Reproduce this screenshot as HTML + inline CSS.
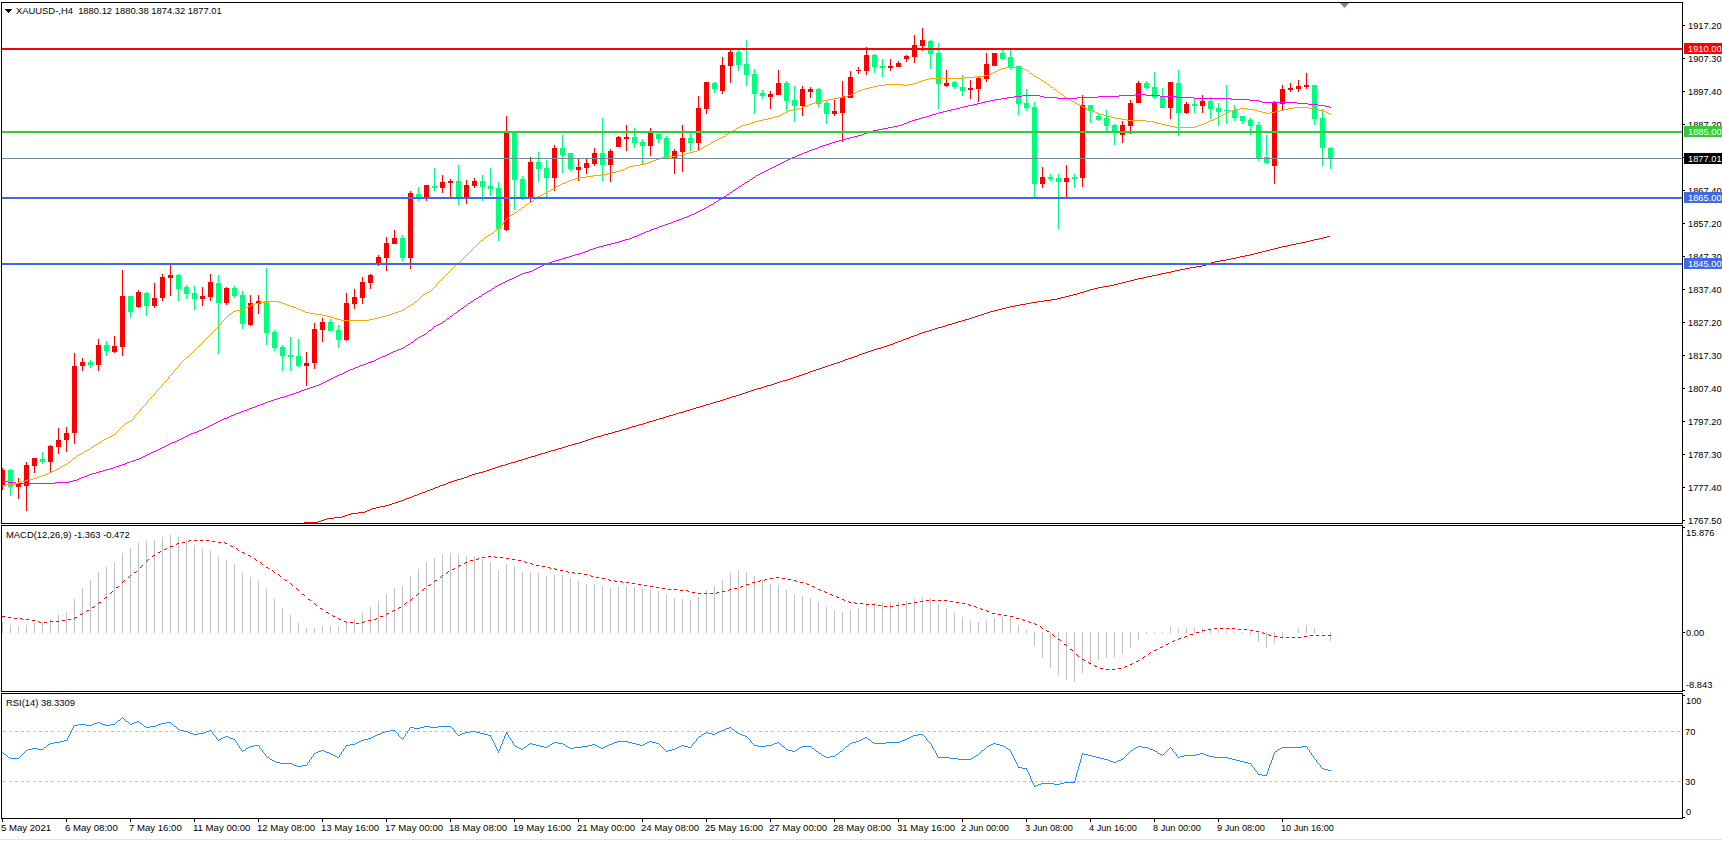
<!DOCTYPE html>
<html><head><meta charset="utf-8"><title>XAUUSD H4</title>
<style>html,body{margin:0;padding:0;background:#fff;}svg{display:block;} text{font-family:"Liberation Sans", sans-serif;}</style>
</head><body>
<svg width="1722" height="841" viewBox="0 0 1722 841" shape-rendering="crispEdges" font-family="'Liberation Sans', sans-serif">
<rect x="0" y="0" width="1722" height="841" fill="#ffffff"/>
<defs><clipPath id="cm"><rect x="2" y="3" width="1680" height="520"/></clipPath><clipPath id="cd"><rect x="2" y="526" width="1680" height="165"/></clipPath><clipPath id="cr"><rect x="2" y="694" width="1680" height="124"/></clipPath></defs>
<g clip-path="url(#cm)">
<rect x="2" y="468" width="1" height="22" fill="#ff0000"/>
<rect x="0" y="470" width="5" height="16" fill="#ff0000"/>
<rect x="10" y="469" width="1" height="27" fill="#00ff7f"/>
<rect x="8" y="470" width="5" height="17" fill="#00ff7f"/>
<rect x="18" y="478" width="1" height="21" fill="#ff0000"/>
<rect x="16" y="484" width="5" height="3" fill="#ff0000"/>
<rect x="26" y="462" width="1" height="49" fill="#ff0000"/>
<rect x="24" y="465" width="5" height="21" fill="#ff0000"/>
<rect x="34" y="458" width="1" height="15" fill="#ff0000"/>
<rect x="32" y="458" width="5" height="8" fill="#ff0000"/>
<rect x="42" y="452" width="1" height="12" fill="#00ff7f"/>
<rect x="40" y="459" width="5" height="3" fill="#00ff7f"/>
<rect x="50" y="445" width="1" height="27" fill="#ff0000"/>
<rect x="48" y="446" width="5" height="16" fill="#ff0000"/>
<rect x="58" y="428" width="1" height="26" fill="#ff0000"/>
<rect x="56" y="440" width="5" height="7" fill="#ff0000"/>
<rect x="66" y="427" width="1" height="25" fill="#ff0000"/>
<rect x="64" y="433" width="5" height="7" fill="#ff0000"/>
<rect x="74" y="353" width="1" height="91" fill="#ff0000"/>
<rect x="72" y="366" width="5" height="67" fill="#ff0000"/>
<rect x="82" y="358" width="1" height="13" fill="#ff0000"/>
<rect x="80" y="362" width="5" height="4" fill="#ff0000"/>
<rect x="90" y="360" width="1" height="8" fill="#00ff7f"/>
<rect x="88" y="362" width="5" height="3" fill="#00ff7f"/>
<rect x="98" y="339" width="1" height="32" fill="#ff0000"/>
<rect x="96" y="345" width="5" height="20" fill="#ff0000"/>
<rect x="106" y="341" width="1" height="15" fill="#00ff7f"/>
<rect x="104" y="345" width="5" height="6" fill="#00ff7f"/>
<rect x="114" y="336" width="1" height="17" fill="#ff0000"/>
<rect x="112" y="346" width="5" height="6" fill="#ff0000"/>
<rect x="122" y="270" width="1" height="86" fill="#ff0000"/>
<rect x="120" y="296" width="5" height="51" fill="#ff0000"/>
<rect x="130" y="296" width="1" height="22" fill="#00ff7f"/>
<rect x="128" y="296" width="5" height="16" fill="#00ff7f"/>
<rect x="138" y="290" width="1" height="18" fill="#ff0000"/>
<rect x="136" y="292" width="5" height="15" fill="#ff0000"/>
<rect x="146" y="292" width="1" height="24" fill="#00ff7f"/>
<rect x="144" y="293" width="5" height="13" fill="#00ff7f"/>
<rect x="154" y="283" width="1" height="25" fill="#ff0000"/>
<rect x="152" y="298" width="5" height="8" fill="#ff0000"/>
<rect x="162" y="274" width="1" height="27" fill="#ff0000"/>
<rect x="160" y="277" width="5" height="21" fill="#ff0000"/>
<rect x="170" y="265" width="1" height="31" fill="#ff0000"/>
<rect x="168" y="275" width="5" height="3" fill="#ff0000"/>
<rect x="178" y="274" width="1" height="27" fill="#00ff7f"/>
<rect x="176" y="275" width="5" height="14" fill="#00ff7f"/>
<rect x="186" y="285" width="1" height="14" fill="#00ff7f"/>
<rect x="184" y="287" width="5" height="7" fill="#00ff7f"/>
<rect x="194" y="286" width="1" height="24" fill="#00ff7f"/>
<rect x="192" y="293" width="5" height="6" fill="#00ff7f"/>
<rect x="202" y="287" width="1" height="19" fill="#ff0000"/>
<rect x="200" y="296" width="5" height="3" fill="#ff0000"/>
<rect x="210" y="274" width="1" height="27" fill="#ff0000"/>
<rect x="208" y="282" width="5" height="15" fill="#ff0000"/>
<rect x="218" y="275" width="1" height="79" fill="#00ff7f"/>
<rect x="216" y="283" width="5" height="20" fill="#00ff7f"/>
<rect x="226" y="287" width="1" height="18" fill="#ff0000"/>
<rect x="224" y="288" width="5" height="15" fill="#ff0000"/>
<rect x="234" y="286" width="1" height="12" fill="#00ff7f"/>
<rect x="232" y="288" width="5" height="8" fill="#00ff7f"/>
<rect x="242" y="291" width="1" height="38" fill="#00ff7f"/>
<rect x="240" y="295" width="5" height="29" fill="#00ff7f"/>
<rect x="250" y="295" width="1" height="31" fill="#ff0000"/>
<rect x="248" y="303" width="5" height="22" fill="#ff0000"/>
<rect x="258" y="295" width="1" height="19" fill="#ff0000"/>
<rect x="256" y="301" width="5" height="3" fill="#ff0000"/>
<rect x="266" y="268" width="1" height="77" fill="#00ff7f"/>
<rect x="264" y="301" width="5" height="32" fill="#00ff7f"/>
<rect x="274" y="330" width="1" height="21" fill="#00ff7f"/>
<rect x="272" y="332" width="5" height="16" fill="#00ff7f"/>
<rect x="282" y="345" width="1" height="26" fill="#00ff7f"/>
<rect x="280" y="347" width="5" height="9" fill="#00ff7f"/>
<rect x="290" y="337" width="1" height="34" fill="#00ff7f"/>
<rect x="288" y="355" width="5" height="2" fill="#00ff7f"/>
<rect x="298" y="339" width="1" height="28" fill="#00ff7f"/>
<rect x="296" y="356" width="5" height="10" fill="#00ff7f"/>
<rect x="306" y="352" width="1" height="34" fill="#ff0000"/>
<rect x="304" y="363" width="5" height="3" fill="#ff0000"/>
<rect x="314" y="323" width="1" height="46" fill="#ff0000"/>
<rect x="312" y="329" width="5" height="34" fill="#ff0000"/>
<rect x="322" y="318" width="1" height="24" fill="#ff0000"/>
<rect x="320" y="322" width="5" height="8" fill="#ff0000"/>
<rect x="330" y="319" width="1" height="12" fill="#00ff7f"/>
<rect x="328" y="322" width="5" height="9" fill="#00ff7f"/>
<rect x="338" y="325" width="1" height="23" fill="#00ff7f"/>
<rect x="336" y="330" width="5" height="10" fill="#00ff7f"/>
<rect x="346" y="293" width="1" height="48" fill="#ff0000"/>
<rect x="344" y="303" width="5" height="37" fill="#ff0000"/>
<rect x="354" y="289" width="1" height="20" fill="#ff0000"/>
<rect x="352" y="297" width="5" height="7" fill="#ff0000"/>
<rect x="362" y="277" width="1" height="27" fill="#ff0000"/>
<rect x="360" y="282" width="5" height="16" fill="#ff0000"/>
<rect x="370" y="274" width="1" height="15" fill="#ff0000"/>
<rect x="368" y="275" width="5" height="8" fill="#ff0000"/>
<rect x="378" y="255" width="1" height="11" fill="#ff0000"/>
<rect x="376" y="257" width="5" height="7" fill="#ff0000"/>
<rect x="386" y="237" width="1" height="34" fill="#ff0000"/>
<rect x="384" y="243" width="5" height="15" fill="#ff0000"/>
<rect x="394" y="230" width="1" height="14" fill="#ff0000"/>
<rect x="392" y="238" width="5" height="6" fill="#ff0000"/>
<rect x="402" y="235" width="1" height="26" fill="#00ff7f"/>
<rect x="400" y="238" width="5" height="20" fill="#00ff7f"/>
<rect x="410" y="191" width="1" height="78" fill="#ff0000"/>
<rect x="408" y="193" width="5" height="65" fill="#ff0000"/>
<rect x="418" y="187" width="1" height="14" fill="#00ff7f"/>
<rect x="416" y="194" width="5" height="4" fill="#00ff7f"/>
<rect x="426" y="185" width="1" height="16" fill="#ff0000"/>
<rect x="424" y="185" width="5" height="13" fill="#ff0000"/>
<rect x="434" y="168" width="1" height="23" fill="#00ff7f"/>
<rect x="432" y="186" width="5" height="2" fill="#00ff7f"/>
<rect x="442" y="175" width="1" height="18" fill="#ff0000"/>
<rect x="440" y="182" width="5" height="6" fill="#ff0000"/>
<rect x="450" y="179" width="1" height="19" fill="#ff0000"/>
<rect x="448" y="181" width="5" height="2" fill="#ff0000"/>
<rect x="458" y="165" width="1" height="40" fill="#00ff7f"/>
<rect x="456" y="181" width="5" height="17" fill="#00ff7f"/>
<rect x="466" y="180" width="1" height="24" fill="#ff0000"/>
<rect x="464" y="185" width="5" height="13" fill="#ff0000"/>
<rect x="474" y="178" width="1" height="10" fill="#ff0000"/>
<rect x="472" y="181" width="5" height="5" fill="#ff0000"/>
<rect x="482" y="175" width="1" height="26" fill="#00ff7f"/>
<rect x="480" y="181" width="5" height="6" fill="#00ff7f"/>
<rect x="490" y="168" width="1" height="28" fill="#00ff7f"/>
<rect x="488" y="186" width="5" height="3" fill="#00ff7f"/>
<rect x="498" y="182" width="1" height="59" fill="#00ff7f"/>
<rect x="496" y="188" width="5" height="41" fill="#00ff7f"/>
<rect x="506" y="116" width="1" height="115" fill="#ff0000"/>
<rect x="504" y="133" width="5" height="97" fill="#ff0000"/>
<rect x="514" y="133" width="1" height="77" fill="#00ff7f"/>
<rect x="512" y="133" width="5" height="47" fill="#00ff7f"/>
<rect x="522" y="176" width="1" height="24" fill="#00ff7f"/>
<rect x="520" y="179" width="5" height="18" fill="#00ff7f"/>
<rect x="530" y="157" width="1" height="46" fill="#ff0000"/>
<rect x="528" y="162" width="5" height="35" fill="#ff0000"/>
<rect x="538" y="152" width="1" height="30" fill="#00ff7f"/>
<rect x="536" y="162" width="5" height="7" fill="#00ff7f"/>
<rect x="546" y="160" width="1" height="38" fill="#00ff7f"/>
<rect x="544" y="168" width="5" height="10" fill="#00ff7f"/>
<rect x="554" y="145" width="1" height="46" fill="#ff0000"/>
<rect x="552" y="148" width="5" height="30" fill="#ff0000"/>
<rect x="562" y="135" width="1" height="38" fill="#00ff7f"/>
<rect x="560" y="148" width="5" height="7" fill="#00ff7f"/>
<rect x="570" y="153" width="1" height="18" fill="#00ff7f"/>
<rect x="568" y="153" width="5" height="16" fill="#00ff7f"/>
<rect x="578" y="159" width="1" height="22" fill="#ff0000"/>
<rect x="576" y="167" width="5" height="3" fill="#ff0000"/>
<rect x="586" y="158" width="1" height="16" fill="#ff0000"/>
<rect x="584" y="163" width="5" height="5" fill="#ff0000"/>
<rect x="594" y="148" width="1" height="18" fill="#ff0000"/>
<rect x="592" y="153" width="5" height="11" fill="#ff0000"/>
<rect x="602" y="118" width="1" height="63" fill="#00ff7f"/>
<rect x="600" y="153" width="5" height="12" fill="#00ff7f"/>
<rect x="610" y="149" width="1" height="33" fill="#ff0000"/>
<rect x="608" y="151" width="5" height="14" fill="#ff0000"/>
<rect x="618" y="136" width="1" height="11" fill="#ff0000"/>
<rect x="616" y="137" width="5" height="10" fill="#ff0000"/>
<rect x="626" y="125" width="1" height="26" fill="#ff0000"/>
<rect x="624" y="137" width="5" height="2" fill="#ff0000"/>
<rect x="634" y="128" width="1" height="20" fill="#00ff7f"/>
<rect x="632" y="137" width="5" height="6" fill="#00ff7f"/>
<rect x="642" y="139" width="1" height="26" fill="#00ff7f"/>
<rect x="640" y="142" width="5" height="4" fill="#00ff7f"/>
<rect x="650" y="128" width="1" height="28" fill="#ff0000"/>
<rect x="648" y="133" width="5" height="13" fill="#ff0000"/>
<rect x="658" y="133" width="1" height="10" fill="#00ff7f"/>
<rect x="656" y="134" width="5" height="5" fill="#00ff7f"/>
<rect x="666" y="136" width="1" height="23" fill="#00ff7f"/>
<rect x="664" y="138" width="5" height="21" fill="#00ff7f"/>
<rect x="674" y="149" width="1" height="25" fill="#ff0000"/>
<rect x="672" y="151" width="5" height="7" fill="#ff0000"/>
<rect x="682" y="125" width="1" height="47" fill="#ff0000"/>
<rect x="680" y="138" width="5" height="14" fill="#ff0000"/>
<rect x="690" y="132" width="1" height="19" fill="#00ff7f"/>
<rect x="688" y="138" width="5" height="5" fill="#00ff7f"/>
<rect x="698" y="96" width="1" height="55" fill="#ff0000"/>
<rect x="696" y="108" width="5" height="35" fill="#ff0000"/>
<rect x="706" y="82" width="1" height="32" fill="#ff0000"/>
<rect x="704" y="82" width="5" height="27" fill="#ff0000"/>
<rect x="714" y="82" width="1" height="11" fill="#00ff7f"/>
<rect x="712" y="83" width="5" height="6" fill="#00ff7f"/>
<rect x="722" y="57" width="1" height="37" fill="#ff0000"/>
<rect x="720" y="65" width="5" height="26" fill="#ff0000"/>
<rect x="730" y="50" width="1" height="33" fill="#ff0000"/>
<rect x="728" y="52" width="5" height="14" fill="#ff0000"/>
<rect x="738" y="50" width="1" height="21" fill="#00ff7f"/>
<rect x="736" y="52" width="5" height="13" fill="#00ff7f"/>
<rect x="746" y="40" width="1" height="46" fill="#00ff7f"/>
<rect x="744" y="64" width="5" height="11" fill="#00ff7f"/>
<rect x="754" y="69" width="1" height="45" fill="#00ff7f"/>
<rect x="752" y="74" width="5" height="20" fill="#00ff7f"/>
<rect x="762" y="90" width="1" height="9" fill="#00ff7f"/>
<rect x="760" y="93" width="5" height="3" fill="#00ff7f"/>
<rect x="770" y="91" width="1" height="18" fill="#ff0000"/>
<rect x="768" y="94" width="5" height="3" fill="#ff0000"/>
<rect x="778" y="70" width="1" height="25" fill="#ff0000"/>
<rect x="776" y="83" width="5" height="12" fill="#ff0000"/>
<rect x="786" y="81" width="1" height="30" fill="#00ff7f"/>
<rect x="784" y="83" width="5" height="18" fill="#00ff7f"/>
<rect x="794" y="86" width="1" height="36" fill="#00ff7f"/>
<rect x="792" y="100" width="5" height="6" fill="#00ff7f"/>
<rect x="802" y="86" width="1" height="30" fill="#ff0000"/>
<rect x="800" y="89" width="5" height="17" fill="#ff0000"/>
<rect x="810" y="87" width="1" height="11" fill="#ff0000"/>
<rect x="808" y="89" width="5" height="3" fill="#ff0000"/>
<rect x="818" y="88" width="1" height="19" fill="#00ff7f"/>
<rect x="816" y="89" width="5" height="15" fill="#00ff7f"/>
<rect x="826" y="101" width="1" height="23" fill="#00ff7f"/>
<rect x="824" y="103" width="5" height="11" fill="#00ff7f"/>
<rect x="834" y="100" width="1" height="16" fill="#ff0000"/>
<rect x="832" y="111" width="5" height="3" fill="#ff0000"/>
<rect x="842" y="81" width="1" height="61" fill="#ff0000"/>
<rect x="840" y="97" width="5" height="16" fill="#ff0000"/>
<rect x="850" y="71" width="1" height="27" fill="#ff0000"/>
<rect x="848" y="77" width="5" height="21" fill="#ff0000"/>
<rect x="858" y="67" width="1" height="7" fill="#ff0000"/>
<rect x="856" y="70" width="5" height="1" fill="#ff0000"/>
<rect x="866" y="47" width="1" height="28" fill="#ff0000"/>
<rect x="864" y="55" width="5" height="16" fill="#ff0000"/>
<rect x="874" y="54" width="1" height="19" fill="#00ff7f"/>
<rect x="872" y="55" width="5" height="12" fill="#00ff7f"/>
<rect x="882" y="59" width="1" height="18" fill="#00ff7f"/>
<rect x="880" y="66" width="5" height="2" fill="#00ff7f"/>
<rect x="890" y="59" width="1" height="12" fill="#ff0000"/>
<rect x="888" y="66" width="5" height="2" fill="#ff0000"/>
<rect x="898" y="61" width="1" height="6" fill="#ff0000"/>
<rect x="896" y="63" width="5" height="4" fill="#ff0000"/>
<rect x="906" y="55" width="1" height="7" fill="#ff0000"/>
<rect x="904" y="56" width="5" height="3" fill="#ff0000"/>
<rect x="914" y="35" width="1" height="28" fill="#ff0000"/>
<rect x="912" y="45" width="5" height="12" fill="#ff0000"/>
<rect x="922" y="28" width="1" height="23" fill="#ff0000"/>
<rect x="920" y="40" width="5" height="6" fill="#ff0000"/>
<rect x="930" y="40" width="1" height="29" fill="#00ff7f"/>
<rect x="928" y="41" width="5" height="13" fill="#00ff7f"/>
<rect x="938" y="43" width="1" height="66" fill="#00ff7f"/>
<rect x="936" y="53" width="5" height="31" fill="#00ff7f"/>
<rect x="946" y="70" width="1" height="17" fill="#ff0000"/>
<rect x="944" y="83" width="5" height="3" fill="#ff0000"/>
<rect x="954" y="81" width="1" height="8" fill="#00ff7f"/>
<rect x="952" y="82" width="5" height="5" fill="#00ff7f"/>
<rect x="962" y="75" width="1" height="21" fill="#00ff7f"/>
<rect x="960" y="87" width="5" height="4" fill="#00ff7f"/>
<rect x="970" y="80" width="1" height="19" fill="#ff0000"/>
<rect x="968" y="88" width="5" height="2" fill="#ff0000"/>
<rect x="978" y="77" width="1" height="25" fill="#ff0000"/>
<rect x="976" y="78" width="5" height="11" fill="#ff0000"/>
<rect x="986" y="53" width="1" height="29" fill="#ff0000"/>
<rect x="984" y="64" width="5" height="15" fill="#ff0000"/>
<rect x="994" y="53" width="1" height="13" fill="#ff0000"/>
<rect x="992" y="53" width="5" height="13" fill="#ff0000"/>
<rect x="1002" y="50" width="1" height="10" fill="#00ff7f"/>
<rect x="1000" y="53" width="5" height="6" fill="#00ff7f"/>
<rect x="1010" y="50" width="1" height="20" fill="#00ff7f"/>
<rect x="1008" y="57" width="5" height="11" fill="#00ff7f"/>
<rect x="1018" y="66" width="1" height="49" fill="#00ff7f"/>
<rect x="1016" y="66" width="5" height="38" fill="#00ff7f"/>
<rect x="1026" y="89" width="1" height="22" fill="#00ff7f"/>
<rect x="1024" y="103" width="5" height="5" fill="#00ff7f"/>
<rect x="1034" y="102" width="1" height="95" fill="#00ff7f"/>
<rect x="1032" y="107" width="5" height="77" fill="#00ff7f"/>
<rect x="1042" y="167" width="1" height="21" fill="#ff0000"/>
<rect x="1040" y="177" width="5" height="7" fill="#ff0000"/>
<rect x="1050" y="174" width="1" height="7" fill="#00ff7f"/>
<rect x="1048" y="177" width="5" height="2" fill="#00ff7f"/>
<rect x="1058" y="174" width="1" height="55" fill="#00ff7f"/>
<rect x="1056" y="178" width="5" height="4" fill="#00ff7f"/>
<rect x="1066" y="165" width="1" height="33" fill="#ff0000"/>
<rect x="1064" y="178" width="5" height="4" fill="#ff0000"/>
<rect x="1074" y="174" width="1" height="14" fill="#00ff7f"/>
<rect x="1072" y="177" width="5" height="2" fill="#00ff7f"/>
<rect x="1082" y="95" width="1" height="92" fill="#ff0000"/>
<rect x="1080" y="105" width="5" height="73" fill="#ff0000"/>
<rect x="1090" y="105" width="1" height="18" fill="#00ff7f"/>
<rect x="1088" y="105" width="5" height="6" fill="#00ff7f"/>
<rect x="1098" y="114" width="1" height="7" fill="#00ff7f"/>
<rect x="1096" y="116" width="5" height="4" fill="#00ff7f"/>
<rect x="1106" y="110" width="1" height="21" fill="#00ff7f"/>
<rect x="1104" y="118" width="5" height="8" fill="#00ff7f"/>
<rect x="1114" y="124" width="1" height="21" fill="#00ff7f"/>
<rect x="1112" y="125" width="5" height="8" fill="#00ff7f"/>
<rect x="1122" y="121" width="1" height="22" fill="#ff0000"/>
<rect x="1120" y="125" width="5" height="10" fill="#ff0000"/>
<rect x="1130" y="100" width="1" height="34" fill="#ff0000"/>
<rect x="1128" y="103" width="5" height="23" fill="#ff0000"/>
<rect x="1138" y="81" width="1" height="22" fill="#ff0000"/>
<rect x="1136" y="83" width="5" height="20" fill="#ff0000"/>
<rect x="1146" y="81" width="1" height="8" fill="#00ff7f"/>
<rect x="1144" y="83" width="5" height="5" fill="#00ff7f"/>
<rect x="1154" y="72" width="1" height="27" fill="#00ff7f"/>
<rect x="1152" y="87" width="5" height="10" fill="#00ff7f"/>
<rect x="1162" y="88" width="1" height="20" fill="#00ff7f"/>
<rect x="1160" y="96" width="5" height="12" fill="#00ff7f"/>
<rect x="1170" y="82" width="1" height="37" fill="#ff0000"/>
<rect x="1168" y="82" width="5" height="26" fill="#ff0000"/>
<rect x="1178" y="70" width="1" height="66" fill="#00ff7f"/>
<rect x="1176" y="83" width="5" height="30" fill="#00ff7f"/>
<rect x="1186" y="102" width="1" height="12" fill="#ff0000"/>
<rect x="1184" y="104" width="5" height="9" fill="#ff0000"/>
<rect x="1194" y="98" width="1" height="15" fill="#00ff7f"/>
<rect x="1192" y="104" width="5" height="2" fill="#00ff7f"/>
<rect x="1202" y="95" width="1" height="18" fill="#ff0000"/>
<rect x="1200" y="101" width="5" height="5" fill="#ff0000"/>
<rect x="1210" y="97" width="1" height="22" fill="#00ff7f"/>
<rect x="1208" y="101" width="5" height="8" fill="#00ff7f"/>
<rect x="1218" y="103" width="1" height="23" fill="#00ff7f"/>
<rect x="1216" y="108" width="5" height="4" fill="#00ff7f"/>
<rect x="1226" y="85" width="1" height="39" fill="#00ff7f"/>
<rect x="1224" y="110" width="5" height="1" fill="#00ff7f"/>
<rect x="1234" y="105" width="1" height="16" fill="#00ff7f"/>
<rect x="1232" y="110" width="5" height="8" fill="#00ff7f"/>
<rect x="1242" y="116" width="1" height="8" fill="#00ff7f"/>
<rect x="1240" y="116" width="5" height="5" fill="#00ff7f"/>
<rect x="1250" y="118" width="1" height="17" fill="#00ff7f"/>
<rect x="1248" y="120" width="5" height="6" fill="#00ff7f"/>
<rect x="1258" y="122" width="1" height="39" fill="#00ff7f"/>
<rect x="1256" y="125" width="5" height="34" fill="#00ff7f"/>
<rect x="1266" y="135" width="1" height="29" fill="#00ff7f"/>
<rect x="1264" y="157" width="5" height="6" fill="#00ff7f"/>
<rect x="1274" y="101" width="1" height="83" fill="#ff0000"/>
<rect x="1272" y="102" width="5" height="64" fill="#ff0000"/>
<rect x="1282" y="85" width="1" height="26" fill="#ff0000"/>
<rect x="1280" y="89" width="5" height="15" fill="#ff0000"/>
<rect x="1290" y="83" width="1" height="9" fill="#ff0000"/>
<rect x="1288" y="88" width="5" height="2" fill="#ff0000"/>
<rect x="1298" y="80" width="1" height="12" fill="#ff0000"/>
<rect x="1296" y="86" width="5" height="3" fill="#ff0000"/>
<rect x="1306" y="73" width="1" height="16" fill="#ff0000"/>
<rect x="1304" y="85" width="5" height="2" fill="#ff0000"/>
<rect x="1314" y="85" width="1" height="40" fill="#00ff7f"/>
<rect x="1312" y="85" width="5" height="34" fill="#00ff7f"/>
<rect x="1322" y="109" width="1" height="57" fill="#00ff7f"/>
<rect x="1320" y="118" width="5" height="30" fill="#00ff7f"/>
<rect x="1330" y="147" width="1" height="22" fill="#00ff7f"/>
<rect x="1328" y="148" width="5" height="11" fill="#00ff7f"/>
<path d="M1327 236h3v1h-3zM1323 237h4v1h-4zM1319 238h4v1h-4zM1314 239h5v1h-5zM1310 240h4v1h-4zM1306 241h4v1h-4zM1301 242h5v1h-5zM1296 243h5v1h-5zM1291 244h5v1h-5zM1287 245h4v1h-4zM1282 246h5v1h-5zM1278 247h4v1h-4zM1274 248h4v1h-4zM1270 249h4v1h-4zM1266 250h4v1h-4zM1262 251h4v1h-4zM1258 252h4v1h-4zM1254 253h4v1h-4zM1250 254h4v1h-4zM1245 255h5v1h-5zM1240 256h5v1h-5zM1236 257h4v1h-4zM1231 258h5v1h-5zM1226 259h5v1h-5zM1220 260h6v1h-6zM1215 261h5v1h-5zM1211 262h4v1h-4zM1208 263h3v1h-3zM1206 264h2v1h-2zM1202 265h4v1h-4zM1196 266h6v1h-6zM1190 267h6v1h-6zM1185 268h5v1h-5zM1180 269h5v1h-5zM1175 270h5v1h-5zM1171 271h4v1h-4zM1166 272h5v1h-5zM1161 273h5v1h-5zM1157 274h4v1h-4zM1152 275h5v1h-5zM1147 276h5v1h-5zM1143 277h4v1h-4zM1138 278h5v1h-5zM1134 279h4v1h-4zM1130 280h4v1h-4zM1126 281h4v1h-4zM1122 282h4v1h-4zM1118 283h4v1h-4zM1114 284h4v1h-4zM1109 285h5v1h-5zM1103 286h6v1h-6zM1098 287h5v1h-5zM1094 288h4v1h-4zM1090 289h4v1h-4zM1087 290h3v1h-3zM1084 291h3v1h-3zM1080 292h4v1h-4zM1077 293h3v1h-3zM1073 294h4v1h-4zM1069 295h4v1h-4zM1065 296h4v1h-4zM1061 297h4v1h-4zM1057 298h4v1h-4zM1051 299h6v1h-6zM1044 300h7v1h-7zM1037 301h7v1h-7zM1031 302h6v1h-6zM1026 303h5v1h-5zM1020 304h6v1h-6zM1015 305h5v1h-5zM1010 306h5v1h-5zM1006 307h4v1h-4zM1002 308h4v1h-4zM998 309h4v1h-4zM994 310h4v1h-4zM990 311h4v1h-4zM987 312h3v1h-3zM984 313h3v1h-3zM981 314h3v1h-3zM978 315h3v1h-3zM975 316h3v1h-3zM972 317h3v1h-3zM969 318h3v1h-3zM965 319h4v1h-4zM962 320h3v1h-3zM958 321h4v1h-4zM955 322h3v1h-3zM952 323h3v1h-3zM948 324h4v1h-4zM945 325h3v1h-3zM942 326h3v1h-3zM938 327h4v1h-4zM935 328h3v1h-3zM932 329h3v1h-3zM929 330h3v1h-3zM925 331h4v1h-4zM922 332h3v1h-3zM919 333h3v1h-3zM917 334h2v1h-2zM914 335h3v1h-3zM911 336h3v1h-3zM909 337h2v1h-2zM906 338h3v1h-3zM903 339h3v1h-3zM901 340h2v1h-2zM898 341h3v1h-3zM895 342h3v1h-3zM893 343h2v1h-2zM890 344h3v1h-3zM887 345h3v1h-3zM884 346h3v1h-3zM881 347h3v1h-3zM877 348h4v1h-4zM874 349h3v1h-3zM871 350h3v1h-3zM868 351h3v1h-3zM865 352h3v1h-3zM862 353h3v1h-3zM859 354h3v1h-3zM857 355h2v1h-2zM854 356h3v1h-3zM851 357h3v1h-3zM848 358h3v1h-3zM845 359h3v1h-3zM843 360h2v1h-2zM840 361h3v1h-3zM837 362h3v1h-3zM834 363h3v1h-3zM831 364h3v1h-3zM828 365h3v1h-3zM825 366h3v1h-3zM822 367h3v1h-3zM819 368h3v1h-3zM816 369h3v1h-3zM813 370h3v1h-3zM810 371h3v1h-3zM808 372h2v1h-2zM805 373h3v1h-3zM802 374h3v1h-3zM799 375h3v1h-3zM796 376h3v1h-3zM793 377h3v1h-3zM790 378h3v1h-3zM787 379h3v1h-3zM783 380h4v1h-4zM780 381h3v1h-3zM777 382h3v1h-3zM774 383h3v1h-3zM771 384h3v1h-3zM767 385h4v1h-4zM764 386h3v1h-3zM761 387h3v1h-3zM757 388h4v1h-4zM754 389h3v1h-3zM751 390h3v1h-3zM748 391h3v1h-3zM745 392h3v1h-3zM742 393h3v1h-3zM739 394h3v1h-3zM736 395h3v1h-3zM732 396h4v1h-4zM729 397h3v1h-3zM726 398h3v1h-3zM723 399h3v1h-3zM720 400h3v1h-3zM716 401h4v1h-4zM713 402h3v1h-3zM710 403h3v1h-3zM706 404h4v1h-4zM703 405h3v1h-3zM700 406h3v1h-3zM696 407h4v1h-4zM693 408h3v1h-3zM690 409h3v1h-3zM686 410h4v1h-4zM683 411h3v1h-3zM679 412h4v1h-4zM676 413h3v1h-3zM673 414h3v1h-3zM669 415h4v1h-4zM666 416h3v1h-3zM663 417h3v1h-3zM659 418h4v1h-4zM656 419h3v1h-3zM653 420h3v1h-3zM649 421h4v1h-4zM646 422h3v1h-3zM643 423h3v1h-3zM639 424h4v1h-4zM636 425h3v1h-3zM632 426h4v1h-4zM629 427h3v1h-3zM626 428h3v1h-3zM622 429h4v1h-4zM619 430h3v1h-3zM615 431h4v1h-4zM612 432h3v1h-3zM608 433h4v1h-4zM604 434h4v1h-4zM601 435h3v1h-3zM597 436h4v1h-4zM594 437h3v1h-3zM591 438h3v1h-3zM588 439h3v1h-3zM585 440h3v1h-3zM582 441h3v1h-3zM579 442h3v1h-3zM575 443h4v1h-4zM572 444h3v1h-3zM568 445h4v1h-4zM565 446h3v1h-3zM562 447h3v1h-3zM558 448h4v1h-4zM555 449h3v1h-3zM551 450h4v1h-4zM548 451h3v1h-3zM545 452h3v1h-3zM541 453h4v1h-4zM538 454h3v1h-3zM535 455h3v1h-3zM531 456h4v1h-4zM528 457h3v1h-3zM525 458h3v1h-3zM522 459h3v1h-3zM518 460h4v1h-4zM515 461h3v1h-3zM511 462h4v1h-4zM508 463h3v1h-3zM505 464h3v1h-3zM501 465h4v1h-4zM498 466h3v1h-3zM495 467h3v1h-3zM492 468h3v1h-3zM489 469h3v1h-3zM486 470h3v1h-3zM483 471h3v1h-3zM479 472h4v1h-4zM475 473h4v1h-4zM472 474h3v1h-3zM469 475h3v1h-3zM467 476h2v1h-2zM464 477h3v1h-3zM461 478h3v1h-3zM457 479h4v1h-4zM454 480h3v1h-3zM451 481h3v1h-3zM448 482h3v1h-3zM446 483h2v1h-2zM443 484h3v1h-3zM440 485h3v1h-3zM438 486h2v1h-2zM435 487h3v1h-3zM433 488h2v1h-2zM430 489h3v1h-3zM427 490h3v1h-3zM425 491h2v1h-2zM422 492h3v1h-3zM419 493h3v1h-3zM417 494h2v1h-2zM414 495h3v1h-3zM412 496h2v1h-2zM409 497h3v1h-3zM406 498h3v1h-3zM404 499h2v1h-2zM401 500h3v1h-3zM398 501h3v1h-3zM395 502h3v1h-3zM392 503h3v1h-3zM389 504h3v1h-3zM385 505h4v1h-4zM380 506h5v1h-5zM376 507h4v1h-4zM372 508h4v1h-4zM370 509h2v1h-2zM367 510h3v1h-3zM365 511h2v1h-2zM358 512h7v1h-7zM351 513h7v1h-7zM348 514h3v1h-3zM345 515h3v1h-3zM342 516h3v1h-3zM334 517h8v1h-8zM327 518h7v1h-7zM324 519h3v1h-3zM321 520h3v1h-3zM318 521h3v1h-3zM304 522h14v1h-14z" fill="#ff0000"/>
<path d="M1135 94h11v1h-11zM1022 95h18v1h-18zM1119 95h16v1h-16zM1146 95h14v1h-14zM1014 96h8v1h-8zM1040 96h4v1h-4zM1098 96h21v1h-21zM1160 96h17v1h-17zM1007 97h7v1h-7zM1044 97h13v1h-13zM1077 97h21v1h-21zM1177 97h17v1h-17zM1001 98h6v1h-6zM1057 98h20v1h-20zM1194 98h37v1h-37zM995 99h6v1h-6zM1231 99h18v1h-18zM990 100h5v1h-5zM1249 100h10v1h-10zM985 101h5v1h-5zM1259 101h3v1h-3zM981 102h4v1h-4zM1262 102h35v1h-35zM977 103h4v1h-4zM1297 103h11v1h-11zM973 104h4v1h-4zM1308 104h10v1h-10zM968 105h5v1h-5zM1318 105h7v1h-7zM964 106h4v1h-4zM1325 106h4v1h-4zM960 107h4v1h-4zM1329 107h2v1h-2zM956 108h4v1h-4zM951 109h5v1h-5zM947 110h4v1h-4zM943 111h4v1h-4zM939 112h4v1h-4zM936 113h3v1h-3zM932 114h4v1h-4zM929 115h3v1h-3zM926 116h3v1h-3zM922 117h4v1h-4zM919 118h3v1h-3zM915 119h4v1h-4zM912 120h3v1h-3zM909 121h3v1h-3zM907 122h2v1h-2zM904 123h3v1h-3zM902 124h2v1h-2zM898 125h4v1h-4zM893 126h5v1h-5zM888 127h5v1h-5zM883 128h5v1h-5zM878 129h5v1h-5zM873 130h5v1h-5zM869 131h4v1h-4zM867 132h2v1h-2zM864 133h3v1h-3zM862 134h2v1h-2zM858 135h4v1h-4zM854 136h4v1h-4zM850 137h4v1h-4zM846 138h4v1h-4zM842 139h4v1h-4zM839 140h3v1h-3zM835 141h4v1h-4zM832 142h3v1h-3zM829 143h3v1h-3zM826 144h3v1h-3zM823 145h3v1h-3zM820 146h3v1h-3zM818 147h2v1h-2zM815 148h3v1h-3zM812 149h3v1h-3zM809 150h3v1h-3zM807 151h2v1h-2zM804 152h3v1h-3zM802 153h2v1h-2zM799 154h3v1h-3zM797 155h2v1h-2zM795 156h2v1h-2zM792 157h3v1h-3zM790 158h2v1h-2zM788 159h2v1h-2zM786 160h2v1h-2zM784 161h2v1h-2zM782 162h2v1h-2zM780 163h2v1h-2zM778 164h2v1h-2zM776 165h2v1h-2zM774 166h2v1h-2zM772 167h2v1h-2zM770 168h2v1h-2zM768 169h2v1h-2zM766 170h2v1h-2zM764 171h2v1h-2zM762 172h2v1h-2zM760 173h2v1h-2zM758 174h2v1h-2zM756 175h2v1h-2zM755 176h1v1h-1zM753 177h2v1h-2zM752 178h1v1h-1zM750 179h2v1h-2zM749 180h1v1h-1zM747 181h2v1h-2zM745 182h2v1h-2zM744 183h1v1h-1zM742 184h2v1h-2zM741 185h1v1h-1zM739 186h2v1h-2zM738 187h1v1h-1zM736 188h2v1h-2zM735 189h1v1h-1zM733 190h2v1h-2zM732 191h1v1h-1zM730 192h2v1h-2zM729 193h1v1h-1zM727 194h2v1h-2zM726 195h1v1h-1zM724 196h2v1h-2zM723 197h1v1h-1zM721 198h2v1h-2zM719 199h2v1h-2zM718 200h1v1h-1zM716 201h2v1h-2zM714 202h2v1h-2zM713 203h1v1h-1zM711 204h2v1h-2zM709 205h2v1h-2zM708 206h1v1h-1zM706 207h2v1h-2zM704 208h2v1h-2zM702 209h2v1h-2zM700 210h2v1h-2zM698 211h2v1h-2zM696 212h2v1h-2zM694 213h2v1h-2zM691 214h3v1h-3zM689 215h2v1h-2zM687 216h2v1h-2zM684 217h3v1h-3zM682 218h2v1h-2zM679 219h3v1h-3zM676 220h3v1h-3zM673 221h3v1h-3zM671 222h2v1h-2zM668 223h3v1h-3zM665 224h3v1h-3zM662 225h3v1h-3zM659 226h3v1h-3zM657 227h2v1h-2zM654 228h3v1h-3zM651 229h3v1h-3zM649 230h2v1h-2zM646 231h3v1h-3zM644 232h2v1h-2zM641 233h3v1h-3zM639 234h2v1h-2zM637 235h2v1h-2zM634 236h3v1h-3zM632 237h2v1h-2zM629 238h3v1h-3zM625 239h4v1h-4zM622 240h3v1h-3zM619 241h3v1h-3zM615 242h4v1h-4zM611 243h4v1h-4zM607 244h4v1h-4zM603 245h4v1h-4zM599 246h4v1h-4zM596 247h3v1h-3zM593 248h3v1h-3zM590 249h3v1h-3zM588 250h2v1h-2zM585 251h3v1h-3zM582 252h3v1h-3zM579 253h3v1h-3zM575 254h4v1h-4zM572 255h3v1h-3zM569 256h3v1h-3zM565 257h4v1h-4zM562 258h3v1h-3zM559 259h3v1h-3zM555 260h4v1h-4zM552 261h3v1h-3zM549 262h3v1h-3zM546 263h3v1h-3zM544 264h2v1h-2zM542 265h2v1h-2zM540 266h2v1h-2zM538 267h2v1h-2zM536 268h2v1h-2zM534 269h2v1h-2zM532 270h2v1h-2zM529 271h3v1h-3zM525 272h4v1h-4zM522 273h3v1h-3zM520 274h2v1h-2zM518 275h2v1h-2zM516 276h2v1h-2zM514 277h2v1h-2zM512 278h2v1h-2zM509 279h3v1h-3zM507 280h2v1h-2zM505 281h2v1h-2zM503 282h2v1h-2zM501 283h2v1h-2zM499 284h2v1h-2zM497 285h2v1h-2zM495 286h2v1h-2zM494 287h1v1h-1zM492 288h2v1h-2zM491 289h1v1h-1zM489 290h2v1h-2zM487 291h2v1h-2zM486 292h1v1h-1zM484 293h2v1h-2zM482 294h2v1h-2zM481 295h1v1h-1zM479 296h2v1h-2zM478 297h1v1h-1zM476 298h2v1h-2zM474 299h2v1h-2zM473 300h1v1h-1zM471 301h2v1h-2zM470 302h1v1h-1zM468 303h2v1h-2zM467 304h1v1h-1zM466 305h1v1h-1zM464 306h2v1h-2zM463 307h1v1h-1zM461 308h2v1h-2zM460 309h1v1h-1zM458 310h2v1h-2zM457 311h1v1h-1zM456 312h1v1h-1zM454 313h2v1h-2zM453 314h1v1h-1zM452 315h1v1h-1zM450 316h2v1h-2zM449 317h1v1h-1zM447 318h2v1h-2zM446 319h1v1h-1zM445 320h1v1h-1zM443 321h2v1h-2zM442 322h1v1h-1zM440 323h2v1h-2zM438 324h2v1h-2zM436 325h2v1h-2zM434 326h2v1h-2zM433 327h1v1h-1zM432 328h1v1h-1zM431 329h1v1h-1zM429 330h2v1h-2zM428 331h1v1h-1zM427 332h1v1h-1zM426 333h1v1h-1zM424 334h2v1h-2zM422 335h2v1h-2zM420 336h2v1h-2zM418 337h2v1h-2zM417 338h1v1h-1zM415 339h2v1h-2zM414 340h1v1h-1zM413 341h1v1h-1zM411 342h2v1h-2zM410 343h1v1h-1zM408 344h2v1h-2zM406 345h2v1h-2zM405 346h1v1h-1zM403 347h2v1h-2zM401 348h2v1h-2zM398 349h3v1h-3zM396 350h2v1h-2zM393 351h3v1h-3zM391 352h2v1h-2zM389 353h2v1h-2zM387 354h2v1h-2zM385 355h2v1h-2zM382 356h3v1h-3zM380 357h2v1h-2zM378 358h2v1h-2zM376 359h2v1h-2zM374 360h2v1h-2zM371 361h3v1h-3zM368 362h3v1h-3zM366 363h2v1h-2zM363 364h3v1h-3zM360 365h3v1h-3zM358 366h2v1h-2zM355 367h3v1h-3zM353 368h2v1h-2zM350 369h3v1h-3zM348 370h2v1h-2zM346 371h2v1h-2zM344 372h2v1h-2zM342 373h2v1h-2zM339 374h3v1h-3zM337 375h2v1h-2zM335 376h2v1h-2zM333 377h2v1h-2zM331 378h2v1h-2zM329 379h2v1h-2zM327 380h2v1h-2zM325 381h2v1h-2zM323 382h2v1h-2zM321 383h2v1h-2zM319 384h2v1h-2zM316 385h3v1h-3zM313 386h3v1h-3zM310 387h3v1h-3zM307 388h3v1h-3zM304 389h3v1h-3zM301 390h3v1h-3zM299 391h2v1h-2zM296 392h3v1h-3zM293 393h3v1h-3zM290 394h3v1h-3zM287 395h3v1h-3zM284 396h3v1h-3zM280 397h4v1h-4zM277 398h3v1h-3zM274 399h3v1h-3zM271 400h3v1h-3zM268 401h3v1h-3zM265 402h3v1h-3zM263 403h2v1h-2zM260 404h3v1h-3zM257 405h3v1h-3zM255 406h2v1h-2zM252 407h3v1h-3zM249 408h3v1h-3zM247 409h2v1h-2zM244 410h3v1h-3zM241 411h3v1h-3zM239 412h2v1h-2zM236 413h3v1h-3zM234 414h2v1h-2zM231 415h3v1h-3zM229 416h2v1h-2zM227 417h2v1h-2zM224 418h3v1h-3zM222 419h2v1h-2zM220 420h2v1h-2zM218 421h2v1h-2zM216 422h2v1h-2zM214 423h2v1h-2zM212 424h2v1h-2zM210 425h2v1h-2zM208 426h2v1h-2zM206 427h2v1h-2zM204 428h2v1h-2zM202 429h2v1h-2zM199 430h3v1h-3zM197 431h2v1h-2zM194 432h3v1h-3zM191 433h3v1h-3zM189 434h2v1h-2zM187 435h2v1h-2zM185 436h2v1h-2zM183 437h2v1h-2zM181 438h2v1h-2zM179 439h2v1h-2zM177 440h2v1h-2zM175 441h2v1h-2zM172 442h3v1h-3zM170 443h2v1h-2zM168 444h2v1h-2zM166 445h2v1h-2zM164 446h2v1h-2zM162 447h2v1h-2zM160 448h2v1h-2zM158 449h2v1h-2zM156 450h2v1h-2zM153 451h3v1h-3zM151 452h2v1h-2zM149 453h2v1h-2zM147 454h2v1h-2zM145 455h2v1h-2zM143 456h2v1h-2zM141 457h2v1h-2zM139 458h2v1h-2zM136 459h3v1h-3zM133 460h3v1h-3zM130 461h3v1h-3zM127 462h3v1h-3zM125 463h2v1h-2zM122 464h3v1h-3zM119 465h3v1h-3zM116 466h3v1h-3zM113 467h3v1h-3zM110 468h3v1h-3zM106 469h4v1h-4zM103 470h3v1h-3zM99 471h4v1h-4zM96 472h3v1h-3zM92 473h4v1h-4zM89 474h3v1h-3zM87 475h2v1h-2zM84 476h3v1h-3zM81 477h3v1h-3zM79 478h2v1h-2zM77 479h2v1h-2zM73 480h4v1h-4zM2 481h6v1h-6zM69 481h4v1h-4zM8 482h8v1h-8zM55 482h14v1h-14zM16 483h39v1h-39z" fill="#ff00ff"/>
<path d="M1006 67h16v1h-16zM1001 68h5v1h-5zM1022 68h2v1h-2zM999 69h2v1h-2zM1024 69h2v1h-2zM997 70h2v1h-2zM1026 70h2v1h-2zM995 71h2v1h-2zM1028 71h1v1h-1zM993 72h2v1h-2zM1029 72h1v1h-1zM991 73h2v1h-2zM1030 73h2v1h-2zM989 74h2v1h-2zM1032 74h1v1h-1zM984 75h5v1h-5zM1033 75h1v1h-1zM975 76h9v1h-9zM1034 76h2v1h-2zM965 77h10v1h-10zM1036 77h2v1h-2zM929 78h36v1h-36zM1038 78h2v1h-2zM925 79h4v1h-4zM1040 79h1v1h-1zM922 80h3v1h-3zM1041 80h2v1h-2zM919 81h3v1h-3zM1043 81h1v1h-1zM917 82h2v1h-2zM1044 82h2v1h-2zM913 83h4v1h-4zM1046 83h1v1h-1zM885 84h18v1h-18zM908 84h5v1h-5zM1047 84h2v1h-2zM878 85h7v1h-7zM903 85h5v1h-5zM1049 85h1v1h-1zM873 86h5v1h-5zM1050 86h1v1h-1zM869 87h4v1h-4zM1051 87h2v1h-2zM865 88h4v1h-4zM1053 88h1v1h-1zM862 89h3v1h-3zM1054 89h2v1h-2zM859 90h3v1h-3zM1056 90h1v1h-1zM857 91h2v1h-2zM1057 91h1v1h-1zM855 92h2v1h-2zM1058 92h2v1h-2zM853 93h2v1h-2zM1060 93h1v1h-1zM851 94h2v1h-2zM1061 94h2v1h-2zM848 95h3v1h-3zM1063 95h1v1h-1zM843 96h5v1h-5zM1064 96h1v1h-1zM838 97h5v1h-5zM1065 97h2v1h-2zM833 98h5v1h-5zM1067 98h1v1h-1zM828 99h5v1h-5zM1068 99h2v1h-2zM823 100h5v1h-5zM1070 100h2v1h-2zM819 101h4v1h-4zM1072 101h2v1h-2zM815 102h4v1h-4zM1074 102h1v1h-1zM812 103h3v1h-3zM1075 103h2v1h-2zM809 104h3v1h-3zM1077 104h2v1h-2zM807 105h2v1h-2zM1079 105h2v1h-2zM804 106h3v1h-3zM1081 106h2v1h-2zM802 107h2v1h-2zM1083 107h2v1h-2zM1294 107h15v1h-15zM798 108h4v1h-4zM1085 108h2v1h-2zM1240 108h7v1h-7zM1288 108h6v1h-6zM1309 108h4v1h-4zM793 109h5v1h-5zM1087 109h3v1h-3zM1235 109h5v1h-5zM1247 109h7v1h-7zM1284 109h4v1h-4zM1313 109h6v1h-6zM789 110h4v1h-4zM1090 110h2v1h-2zM1231 110h4v1h-4zM1254 110h4v1h-4zM1280 110h4v1h-4zM1319 110h5v1h-5zM787 111h2v1h-2zM1092 111h3v1h-3zM1229 111h2v1h-2zM1258 111h4v1h-4zM1275 111h5v1h-5zM1324 111h2v1h-2zM785 112h2v1h-2zM1095 112h2v1h-2zM1227 112h2v1h-2zM1262 112h4v1h-4zM1270 112h5v1h-5zM1326 112h2v1h-2zM783 113h2v1h-2zM1097 113h3v1h-3zM1225 113h2v1h-2zM1266 113h4v1h-4zM1328 113h2v1h-2zM781 114h2v1h-2zM1100 114h4v1h-4zM1223 114h2v1h-2zM1330 114h1v1h-1zM779 115h2v1h-2zM1104 115h3v1h-3zM1221 115h2v1h-2zM775 116h4v1h-4zM1107 116h4v1h-4zM1219 116h2v1h-2zM772 117h3v1h-3zM1111 117h4v1h-4zM1217 117h2v1h-2zM768 118h4v1h-4zM1115 118h6v1h-6zM1215 118h2v1h-2zM763 119h5v1h-5zM1121 119h6v1h-6zM1213 119h2v1h-2zM759 120h4v1h-4zM1127 120h19v1h-19zM1210 120h3v1h-3zM755 121h4v1h-4zM1146 121h8v1h-8zM1208 121h2v1h-2zM752 122h3v1h-3zM1154 122h3v1h-3zM1206 122h2v1h-2zM749 123h3v1h-3zM1157 123h4v1h-4zM1204 123h2v1h-2zM745 124h4v1h-4zM1161 124h4v1h-4zM1201 124h3v1h-3zM742 125h3v1h-3zM1165 125h5v1h-5zM1198 125h3v1h-3zM740 126h2v1h-2zM1170 126h5v1h-5zM1195 126h3v1h-3zM738 127h2v1h-2zM1175 127h20v1h-20zM736 128h2v1h-2zM735 129h1v1h-1zM733 130h2v1h-2zM731 131h2v1h-2zM730 132h1v1h-1zM728 133h2v1h-2zM726 134h2v1h-2zM725 135h1v1h-1zM723 136h2v1h-2zM721 137h2v1h-2zM719 138h2v1h-2zM717 139h2v1h-2zM715 140h2v1h-2zM713 141h2v1h-2zM711 142h2v1h-2zM710 143h1v1h-1zM708 144h2v1h-2zM706 145h2v1h-2zM704 146h2v1h-2zM703 147h1v1h-1zM701 148h2v1h-2zM699 149h2v1h-2zM697 150h2v1h-2zM693 151h4v1h-4zM689 152h4v1h-4zM686 153h3v1h-3zM682 154h4v1h-4zM676 155h6v1h-6zM668 156h8v1h-8zM662 157h6v1h-6zM659 158h3v1h-3zM656 159h3v1h-3zM653 160h3v1h-3zM651 161h2v1h-2zM648 162h3v1h-3zM645 163h3v1h-3zM640 164h5v1h-5zM634 165h6v1h-6zM629 166h5v1h-5zM627 167h2v1h-2zM625 168h2v1h-2zM623 169h2v1h-2zM620 170h3v1h-3zM616 171h4v1h-4zM611 172h5v1h-5zM607 173h4v1h-4zM601 174h6v1h-6zM593 175h8v1h-8zM586 176h7v1h-7zM580 177h6v1h-6zM576 178h4v1h-4zM572 179h4v1h-4zM569 180h3v1h-3zM567 181h2v1h-2zM565 182h2v1h-2zM562 183h3v1h-3zM560 184h2v1h-2zM558 185h2v1h-2zM556 186h2v1h-2zM555 187h1v1h-1zM553 188h2v1h-2zM551 189h2v1h-2zM550 190h1v1h-1zM548 191h2v1h-2zM546 192h2v1h-2zM544 193h2v1h-2zM542 194h2v1h-2zM540 195h2v1h-2zM538 196h2v1h-2zM537 197h1v1h-1zM535 198h2v1h-2zM534 199h1v1h-1zM533 200h1v1h-1zM531 201h2v1h-2zM529 202h2v1h-2zM528 203h1v1h-1zM526 204h2v1h-2zM525 205h1v1h-1zM524 206h1v1h-1zM522 207h2v1h-2zM521 208h1v1h-1zM519 209h2v1h-2zM518 210h1v1h-1zM517 211h1v1h-1zM515 212h2v1h-2zM514 213h1v1h-1zM512 214h2v1h-2zM510 215h2v1h-2zM509 216h1v1h-1zM508 217h1v1h-1zM507 218h1v1h-1zM506 219h1v1h-1zM505 220h1v1h-1zM504 221h1v1h-1zM503 222h1v1h-1zM503 223h1v1h-1zM502 224h1v1h-1zM501 225h1v1h-1zM500 226h1v1h-1zM499 227h1v1h-1zM498 228h1v1h-1zM497 229h1v1h-1zM495 230h2v1h-2zM494 231h1v1h-1zM493 232h1v1h-1zM491 233h2v1h-2zM490 234h1v1h-1zM488 235h2v1h-2zM486 236h2v1h-2zM485 237h1v1h-1zM484 238h1v1h-1zM483 239h1v1h-1zM481 240h2v1h-2zM480 241h1v1h-1zM479 242h1v1h-1zM478 243h1v1h-1zM477 244h1v1h-1zM476 245h1v1h-1zM475 246h1v1h-1zM474 247h1v1h-1zM473 248h1v1h-1zM472 249h1v1h-1zM471 250h1v1h-1zM470 251h1v1h-1zM469 252h1v1h-1zM468 253h1v1h-1zM467 254h1v1h-1zM466 255h1v1h-1zM465 256h1v1h-1zM464 257h1v1h-1zM463 258h1v1h-1zM462 259h1v1h-1zM461 260h1v1h-1zM460 261h1v1h-1zM459 262h1v1h-1zM458 263h1v1h-1zM456 264h2v1h-2zM455 265h1v1h-1zM454 266h1v1h-1zM453 267h1v1h-1zM452 268h1v1h-1zM451 269h1v1h-1zM450 270h1v1h-1zM449 271h1v1h-1zM448 272h1v1h-1zM447 273h1v1h-1zM446 274h1v1h-1zM445 275h1v1h-1zM444 276h1v1h-1zM443 277h1v1h-1zM442 278h1v1h-1zM441 279h1v1h-1zM440 280h1v1h-1zM439 281h1v1h-1zM438 282h1v1h-1zM437 283h1v1h-1zM436 284h1v1h-1zM436 285h1v1h-1zM435 286h1v1h-1zM434 287h1v1h-1zM433 288h1v1h-1zM432 289h1v1h-1zM431 290h1v1h-1zM429 291h2v1h-2zM427 292h2v1h-2zM425 293h2v1h-2zM423 294h2v1h-2zM422 295h1v1h-1zM421 296h1v1h-1zM420 297h1v1h-1zM419 298h1v1h-1zM418 299h1v1h-1zM417 300h1v1h-1zM269 301h10v1h-10zM415 301h2v1h-2zM259 302h10v1h-10zM279 302h3v1h-3zM414 302h1v1h-1zM255 303h4v1h-4zM282 303h3v1h-3zM413 303h1v1h-1zM252 304h3v1h-3zM285 304h2v1h-2zM411 304h2v1h-2zM250 305h2v1h-2zM287 305h3v1h-3zM410 305h1v1h-1zM248 306h2v1h-2zM290 306h3v1h-3zM408 306h2v1h-2zM246 307h2v1h-2zM293 307h3v1h-3zM406 307h2v1h-2zM244 308h2v1h-2zM296 308h2v1h-2zM405 308h1v1h-1zM241 309h3v1h-3zM298 309h3v1h-3zM403 309h2v1h-2zM236 310h5v1h-5zM301 310h2v1h-2zM401 310h2v1h-2zM233 311h3v1h-3zM303 311h2v1h-2zM398 311h3v1h-3zM232 312h1v1h-1zM305 312h4v1h-4zM395 312h3v1h-3zM231 313h1v1h-1zM309 313h6v1h-6zM392 313h3v1h-3zM229 314h2v1h-2zM315 314h7v1h-7zM389 314h3v1h-3zM228 315h1v1h-1zM322 315h5v1h-5zM386 315h3v1h-3zM227 316h1v1h-1zM327 316h4v1h-4zM382 316h4v1h-4zM226 317h1v1h-1zM331 317h3v1h-3zM378 317h4v1h-4zM225 318h1v1h-1zM334 318h3v1h-3zM374 318h4v1h-4zM224 319h1v1h-1zM337 319h4v1h-4zM369 319h5v1h-5zM223 320h1v1h-1zM341 320h28v1h-28zM222 321h1v1h-1zM221 322h1v1h-1zM221 323h1v1h-1zM220 324h1v1h-1zM219 325h1v1h-1zM218 326h1v1h-1zM217 327h1v1h-1zM216 328h1v1h-1zM215 329h1v1h-1zM214 330h1v1h-1zM213 331h1v1h-1zM212 332h1v1h-1zM211 333h1v1h-1zM210 334h1v1h-1zM209 335h1v1h-1zM208 336h1v1h-1zM207 337h1v1h-1zM206 338h1v1h-1zM205 339h1v1h-1zM204 340h1v1h-1zM203 341h1v1h-1zM202 342h1v1h-1zM201 343h1v1h-1zM200 344h1v1h-1zM199 345h1v1h-1zM198 346h1v1h-1zM197 347h1v1h-1zM196 348h1v1h-1zM195 349h1v1h-1zM194 350h1v1h-1zM193 351h1v1h-1zM192 352h1v1h-1zM191 353h1v1h-1zM190 354h1v1h-1zM189 355h1v1h-1zM188 356h1v1h-1zM186 357h2v1h-2zM185 358h1v1h-1zM184 359h1v1h-1zM183 360h1v1h-1zM182 361h1v1h-1zM181 362h1v1h-1zM180 363h1v1h-1zM179 364h1v1h-1zM179 365h1v1h-1zM178 366h1v1h-1zM177 367h1v1h-1zM176 368h1v1h-1zM175 369h1v1h-1zM174 370h1v1h-1zM173 371h1v1h-1zM173 372h1v1h-1zM172 373h1v1h-1zM171 374h1v1h-1zM170 375h1v1h-1zM169 376h1v1h-1zM168 377h1v1h-1zM168 378h1v1h-1zM167 379h1v1h-1zM166 380h1v1h-1zM165 381h1v1h-1zM164 382h1v1h-1zM163 383h1v1h-1zM162 384h1v1h-1zM162 385h1v1h-1zM161 386h1v1h-1zM160 387h1v1h-1zM159 388h1v1h-1zM158 389h1v1h-1zM157 390h1v1h-1zM156 391h1v1h-1zM155 392h1v1h-1zM155 393h1v1h-1zM154 394h1v1h-1zM153 395h1v1h-1zM152 396h1v1h-1zM151 397h1v1h-1zM150 398h1v1h-1zM149 399h1v1h-1zM148 400h1v1h-1zM147 401h1v1h-1zM147 402h1v1h-1zM146 403h1v1h-1zM145 404h1v1h-1zM144 405h1v1h-1zM143 406h1v1h-1zM142 407h1v1h-1zM141 408h1v1h-1zM140 409h1v1h-1zM140 410h1v1h-1zM139 411h1v1h-1zM138 412h1v1h-1zM137 413h1v1h-1zM136 414h1v1h-1zM135 415h1v1h-1zM134 416h1v1h-1zM134 417h1v1h-1zM133 418h1v1h-1zM132 419h1v1h-1zM131 420h1v1h-1zM129 421h2v1h-2zM127 422h2v1h-2zM125 423h2v1h-2zM124 424h1v1h-1zM123 425h1v1h-1zM122 426h1v1h-1zM121 427h1v1h-1zM120 428h1v1h-1zM119 429h1v1h-1zM118 430h1v1h-1zM117 431h1v1h-1zM116 432h1v1h-1zM115 433h1v1h-1zM114 434h1v1h-1zM112 435h2v1h-2zM110 436h2v1h-2zM108 437h2v1h-2zM106 438h2v1h-2zM104 439h2v1h-2zM102 440h2v1h-2zM101 441h1v1h-1zM99 442h2v1h-2zM98 443h1v1h-1zM96 444h2v1h-2zM94 445h2v1h-2zM93 446h1v1h-1zM91 447h2v1h-2zM90 448h1v1h-1zM88 449h2v1h-2zM86 450h2v1h-2zM84 451h2v1h-2zM83 452h1v1h-1zM81 453h2v1h-2zM79 454h2v1h-2zM77 455h2v1h-2zM76 456h1v1h-1zM75 457h1v1h-1zM73 458h2v1h-2zM72 459h1v1h-1zM71 460h1v1h-1zM70 461h1v1h-1zM68 462h2v1h-2zM67 463h1v1h-1zM65 464h2v1h-2zM63 465h2v1h-2zM61 466h2v1h-2zM60 467h1v1h-1zM58 468h2v1h-2zM56 469h2v1h-2zM54 470h2v1h-2zM52 471h2v1h-2zM49 472h3v1h-3zM47 473h2v1h-2zM45 474h2v1h-2zM42 475h3v1h-3zM39 476h3v1h-3zM37 477h2v1h-2zM33 478h4v1h-4zM28 479h5v1h-5zM25 480h3v1h-3zM22 481h3v1h-3zM18 482h4v1h-4zM15 483h3v1h-3zM7 484h8v1h-8zM2 485h5v1h-5z" fill="#ffa500"/>
<rect x="2" y="48" width="1680" height="2" fill="#ff0000"/>
<rect x="2" y="131" width="1680" height="2" fill="#32cd32"/>
<rect x="2" y="158" width="1680" height="1" fill="#778899"/>
<rect x="2" y="197" width="1680" height="2" fill="#4169e1"/>
<rect x="2" y="263" width="1680" height="2" fill="#4169e1"/>
</g>
<rect x="5" y="9" width="7" height="1" fill="#000"/>
<rect x="6" y="10" width="5" height="1" fill="#000"/>
<rect x="7" y="11" width="3" height="1" fill="#000"/>
<rect x="8" y="12" width="1" height="1" fill="#000"/>
<text transform="translate(16,14) scale(0.96,1)" fill="#000" font-size="9.8" text-anchor="start">XAUUSD-,H4&#160;&#160;1880.12 1880.38 1874.32 1877.01</text>
<polygon points="1340,3 1349,3 1344.5,8" fill="#778899" shape-rendering="auto"/>
<g clip-path="url(#cd)">
<rect x="2" y="622" width="1" height="11" fill="#c0c0c0"/>
<rect x="10" y="625" width="1" height="8" fill="#c0c0c0"/>
<rect x="18" y="627" width="1" height="6" fill="#c0c0c0"/>
<rect x="26" y="625" width="1" height="8" fill="#c0c0c0"/>
<rect x="34" y="623" width="1" height="10" fill="#c0c0c0"/>
<rect x="42" y="622" width="1" height="11" fill="#c0c0c0"/>
<rect x="50" y="619" width="1" height="14" fill="#c0c0c0"/>
<rect x="58" y="615" width="1" height="18" fill="#c0c0c0"/>
<rect x="66" y="612" width="1" height="21" fill="#c0c0c0"/>
<rect x="74" y="599" width="1" height="34" fill="#c0c0c0"/>
<rect x="82" y="588" width="1" height="45" fill="#c0c0c0"/>
<rect x="90" y="580" width="1" height="53" fill="#c0c0c0"/>
<rect x="98" y="572" width="1" height="61" fill="#c0c0c0"/>
<rect x="106" y="567" width="1" height="66" fill="#c0c0c0"/>
<rect x="114" y="563" width="1" height="70" fill="#c0c0c0"/>
<rect x="122" y="553" width="1" height="80" fill="#c0c0c0"/>
<rect x="130" y="548" width="1" height="85" fill="#c0c0c0"/>
<rect x="138" y="543" width="1" height="90" fill="#c0c0c0"/>
<rect x="146" y="541" width="1" height="92" fill="#c0c0c0"/>
<rect x="154" y="540" width="1" height="93" fill="#c0c0c0"/>
<rect x="162" y="537" width="1" height="96" fill="#c0c0c0"/>
<rect x="170" y="535" width="1" height="98" fill="#c0c0c0"/>
<rect x="178" y="537" width="1" height="96" fill="#c0c0c0"/>
<rect x="186" y="540" width="1" height="93" fill="#c0c0c0"/>
<rect x="194" y="545" width="1" height="88" fill="#c0c0c0"/>
<rect x="202" y="549" width="1" height="84" fill="#c0c0c0"/>
<rect x="210" y="551" width="1" height="82" fill="#c0c0c0"/>
<rect x="218" y="557" width="1" height="76" fill="#c0c0c0"/>
<rect x="226" y="560" width="1" height="73" fill="#c0c0c0"/>
<rect x="234" y="564" width="1" height="69" fill="#c0c0c0"/>
<rect x="242" y="573" width="1" height="60" fill="#c0c0c0"/>
<rect x="250" y="577" width="1" height="56" fill="#c0c0c0"/>
<rect x="258" y="581" width="1" height="52" fill="#c0c0c0"/>
<rect x="266" y="589" width="1" height="44" fill="#c0c0c0"/>
<rect x="274" y="599" width="1" height="34" fill="#c0c0c0"/>
<rect x="282" y="608" width="1" height="25" fill="#c0c0c0"/>
<rect x="290" y="615" width="1" height="18" fill="#c0c0c0"/>
<rect x="298" y="623" width="1" height="10" fill="#c0c0c0"/>
<rect x="306" y="628" width="1" height="5" fill="#c0c0c0"/>
<rect x="314" y="628" width="1" height="5" fill="#c0c0c0"/>
<rect x="322" y="626" width="1" height="7" fill="#c0c0c0"/>
<rect x="330" y="626" width="1" height="7" fill="#c0c0c0"/>
<rect x="338" y="627" width="1" height="6" fill="#c0c0c0"/>
<rect x="346" y="622" width="1" height="11" fill="#c0c0c0"/>
<rect x="354" y="619" width="1" height="14" fill="#c0c0c0"/>
<rect x="362" y="613" width="1" height="20" fill="#c0c0c0"/>
<rect x="370" y="607" width="1" height="26" fill="#c0c0c0"/>
<rect x="378" y="601" width="1" height="32" fill="#c0c0c0"/>
<rect x="386" y="594" width="1" height="39" fill="#c0c0c0"/>
<rect x="394" y="588" width="1" height="45" fill="#c0c0c0"/>
<rect x="402" y="586" width="1" height="47" fill="#c0c0c0"/>
<rect x="410" y="576" width="1" height="57" fill="#c0c0c0"/>
<rect x="418" y="569" width="1" height="64" fill="#c0c0c0"/>
<rect x="426" y="562" width="1" height="71" fill="#c0c0c0"/>
<rect x="434" y="558" width="1" height="75" fill="#c0c0c0"/>
<rect x="442" y="555" width="1" height="78" fill="#c0c0c0"/>
<rect x="450" y="553" width="1" height="80" fill="#c0c0c0"/>
<rect x="458" y="555" width="1" height="78" fill="#c0c0c0"/>
<rect x="466" y="556" width="1" height="77" fill="#c0c0c0"/>
<rect x="474" y="557" width="1" height="76" fill="#c0c0c0"/>
<rect x="482" y="559" width="1" height="74" fill="#c0c0c0"/>
<rect x="490" y="562" width="1" height="71" fill="#c0c0c0"/>
<rect x="498" y="571" width="1" height="62" fill="#c0c0c0"/>
<rect x="506" y="564" width="1" height="69" fill="#c0c0c0"/>
<rect x="514" y="566" width="1" height="67" fill="#c0c0c0"/>
<rect x="522" y="572" width="1" height="61" fill="#c0c0c0"/>
<rect x="530" y="572" width="1" height="61" fill="#c0c0c0"/>
<rect x="538" y="573" width="1" height="60" fill="#c0c0c0"/>
<rect x="546" y="576" width="1" height="57" fill="#c0c0c0"/>
<rect x="554" y="575" width="1" height="58" fill="#c0c0c0"/>
<rect x="562" y="575" width="1" height="58" fill="#c0c0c0"/>
<rect x="570" y="578" width="1" height="55" fill="#c0c0c0"/>
<rect x="578" y="581" width="1" height="52" fill="#c0c0c0"/>
<rect x="586" y="584" width="1" height="49" fill="#c0c0c0"/>
<rect x="594" y="584" width="1" height="49" fill="#c0c0c0"/>
<rect x="602" y="587" width="1" height="46" fill="#c0c0c0"/>
<rect x="610" y="588" width="1" height="45" fill="#c0c0c0"/>
<rect x="618" y="587" width="1" height="46" fill="#c0c0c0"/>
<rect x="626" y="586" width="1" height="47" fill="#c0c0c0"/>
<rect x="634" y="587" width="1" height="46" fill="#c0c0c0"/>
<rect x="642" y="589" width="1" height="44" fill="#c0c0c0"/>
<rect x="650" y="589" width="1" height="44" fill="#c0c0c0"/>
<rect x="658" y="591" width="1" height="42" fill="#c0c0c0"/>
<rect x="666" y="595" width="1" height="38" fill="#c0c0c0"/>
<rect x="674" y="598" width="1" height="35" fill="#c0c0c0"/>
<rect x="682" y="599" width="1" height="34" fill="#c0c0c0"/>
<rect x="690" y="600" width="1" height="33" fill="#c0c0c0"/>
<rect x="698" y="597" width="1" height="36" fill="#c0c0c0"/>
<rect x="706" y="590" width="1" height="43" fill="#c0c0c0"/>
<rect x="714" y="586" width="1" height="47" fill="#c0c0c0"/>
<rect x="722" y="580" width="1" height="53" fill="#c0c0c0"/>
<rect x="730" y="573" width="1" height="60" fill="#c0c0c0"/>
<rect x="738" y="571" width="1" height="62" fill="#c0c0c0"/>
<rect x="746" y="572" width="1" height="61" fill="#c0c0c0"/>
<rect x="754" y="576" width="1" height="57" fill="#c0c0c0"/>
<rect x="762" y="580" width="1" height="53" fill="#c0c0c0"/>
<rect x="770" y="584" width="1" height="49" fill="#c0c0c0"/>
<rect x="778" y="585" width="1" height="48" fill="#c0c0c0"/>
<rect x="786" y="590" width="1" height="43" fill="#c0c0c0"/>
<rect x="794" y="595" width="1" height="38" fill="#c0c0c0"/>
<rect x="802" y="596" width="1" height="37" fill="#c0c0c0"/>
<rect x="810" y="598" width="1" height="35" fill="#c0c0c0"/>
<rect x="818" y="602" width="1" height="31" fill="#c0c0c0"/>
<rect x="826" y="607" width="1" height="26" fill="#c0c0c0"/>
<rect x="834" y="611" width="1" height="22" fill="#c0c0c0"/>
<rect x="842" y="612" width="1" height="21" fill="#c0c0c0"/>
<rect x="850" y="610" width="1" height="23" fill="#c0c0c0"/>
<rect x="858" y="608" width="1" height="25" fill="#c0c0c0"/>
<rect x="866" y="604" width="1" height="29" fill="#c0c0c0"/>
<rect x="874" y="603" width="1" height="30" fill="#c0c0c0"/>
<rect x="882" y="602" width="1" height="31" fill="#c0c0c0"/>
<rect x="890" y="602" width="1" height="31" fill="#c0c0c0"/>
<rect x="898" y="602" width="1" height="31" fill="#c0c0c0"/>
<rect x="906" y="601" width="1" height="32" fill="#c0c0c0"/>
<rect x="914" y="599" width="1" height="34" fill="#c0c0c0"/>
<rect x="922" y="597" width="1" height="36" fill="#c0c0c0"/>
<rect x="930" y="598" width="1" height="35" fill="#c0c0c0"/>
<rect x="938" y="604" width="1" height="29" fill="#c0c0c0"/>
<rect x="946" y="608" width="1" height="25" fill="#c0c0c0"/>
<rect x="954" y="613" width="1" height="20" fill="#c0c0c0"/>
<rect x="962" y="617" width="1" height="16" fill="#c0c0c0"/>
<rect x="970" y="621" width="1" height="12" fill="#c0c0c0"/>
<rect x="978" y="622" width="1" height="11" fill="#c0c0c0"/>
<rect x="986" y="621" width="1" height="12" fill="#c0c0c0"/>
<rect x="994" y="618" width="1" height="15" fill="#c0c0c0"/>
<rect x="1002" y="617" width="1" height="16" fill="#c0c0c0"/>
<rect x="1010" y="618" width="1" height="15" fill="#c0c0c0"/>
<rect x="1018" y="625" width="1" height="8" fill="#c0c0c0"/>
<rect x="1026" y="630" width="1" height="3" fill="#c0c0c0"/>
<rect x="1034" y="632" width="1" height="14" fill="#c0c0c0"/>
<rect x="1042" y="632" width="1" height="26" fill="#c0c0c0"/>
<rect x="1050" y="632" width="1" height="36" fill="#c0c0c0"/>
<rect x="1058" y="632" width="1" height="43" fill="#c0c0c0"/>
<rect x="1066" y="632" width="1" height="48" fill="#c0c0c0"/>
<rect x="1074" y="632" width="1" height="50" fill="#c0c0c0"/>
<rect x="1082" y="632" width="1" height="41" fill="#c0c0c0"/>
<rect x="1090" y="632" width="1" height="33" fill="#c0c0c0"/>
<rect x="1098" y="632" width="1" height="28" fill="#c0c0c0"/>
<rect x="1106" y="632" width="1" height="26" fill="#c0c0c0"/>
<rect x="1114" y="632" width="1" height="25" fill="#c0c0c0"/>
<rect x="1122" y="632" width="1" height="22" fill="#c0c0c0"/>
<rect x="1130" y="632" width="1" height="16" fill="#c0c0c0"/>
<rect x="1138" y="632" width="1" height="8" fill="#c0c0c0"/>
<rect x="1146" y="632" width="1" height="2" fill="#c0c0c0"/>
<rect x="1154" y="632" width="1" height="1" fill="#c0c0c0"/>
<rect x="1162" y="632" width="1" height="1" fill="#c0c0c0"/>
<rect x="1170" y="627" width="1" height="6" fill="#c0c0c0"/>
<rect x="1178" y="629" width="1" height="4" fill="#c0c0c0"/>
<rect x="1186" y="628" width="1" height="5" fill="#c0c0c0"/>
<rect x="1194" y="628" width="1" height="5" fill="#c0c0c0"/>
<rect x="1202" y="628" width="1" height="5" fill="#c0c0c0"/>
<rect x="1210" y="630" width="1" height="3" fill="#c0c0c0"/>
<rect x="1218" y="630" width="1" height="3" fill="#c0c0c0"/>
<rect x="1226" y="631" width="1" height="2" fill="#c0c0c0"/>
<rect x="1234" y="632" width="1" height="1" fill="#c0c0c0"/>
<rect x="1242" y="632" width="1" height="1" fill="#c0c0c0"/>
<rect x="1250" y="632" width="1" height="3" fill="#c0c0c0"/>
<rect x="1258" y="632" width="1" height="10" fill="#c0c0c0"/>
<rect x="1266" y="632" width="1" height="16" fill="#c0c0c0"/>
<rect x="1274" y="632" width="1" height="11" fill="#c0c0c0"/>
<rect x="1282" y="632" width="1" height="5" fill="#c0c0c0"/>
<rect x="1298" y="629" width="1" height="4" fill="#c0c0c0"/>
<rect x="1306" y="625" width="1" height="8" fill="#c0c0c0"/>
<rect x="1314" y="628" width="1" height="5" fill="#c0c0c0"/>
<rect x="1322" y="632" width="1" height="1" fill="#c0c0c0"/>
<rect x="1330" y="632" width="1" height="9" fill="#c0c0c0"/>
<path d="M189 540h2v1h-2zM194 540h3v1h-3zM200 540h3v1h-3zM206 540h3v1h-3zM188 541h1v1h-1zM212 541h3v1h-3zM182 542h3v1h-3zM218 542h3v1h-3zM224 542h1v1h-1zM177 543h2v1h-2zM225 543h2v1h-2zM176 544h1v1h-1zM230 545h1v1h-1zM170 546h3v1h-3zM231 546h2v1h-2zM166 548h1v1h-1zM236 548h1v1h-1zM164 549h2v1h-2zM237 549h1v1h-1zM238 550h1v1h-1zM160 551h1v1h-1zM158 552h2v1h-2zM242 552h2v1h-2zM244 553h1v1h-1zM153 555h2v1h-2zM248 555h2v1h-2zM152 556h1v1h-1zM250 556h1v1h-1zM488 556h3v1h-3zM494 556h1v1h-1zM482 557h3v1h-3zM495 557h2v1h-2zM500 557h3v1h-3zM254 558h1v1h-1zM478 558h1v1h-1zM506 558h3v1h-3zM148 559h1v1h-1zM255 559h1v1h-1zM476 559h2v1h-2zM512 559h3v1h-3zM147 560h1v1h-1zM256 560h1v1h-1zM470 560h3v1h-3zM518 560h3v1h-3zM146 561h1v1h-1zM524 561h1v1h-1zM260 562h1v1h-1zM465 562h2v1h-2zM525 562h2v1h-2zM261 563h1v1h-1zM464 563h1v1h-1zM530 563h2v1h-2zM262 564h1v1h-1zM532 564h1v1h-1zM142 565h1v1h-1zM459 565h2v1h-2zM536 565h3v1h-3zM141 566h1v1h-1zM458 566h1v1h-1zM542 566h3v1h-3zM140 567h1v1h-1zM266 567h2v1h-2zM548 567h2v1h-2zM268 568h1v1h-1zM454 568h1v1h-1zM550 568h1v1h-1zM554 568h1v1h-1zM452 569h2v1h-2zM555 569h2v1h-2zM272 570h1v1h-1zM560 570h3v1h-3zM136 571h1v1h-1zM273 571h1v1h-1zM448 571h1v1h-1zM566 571h2v1h-2zM134 572h2v1h-2zM274 572h1v1h-1zM447 572h1v1h-1zM568 572h1v1h-1zM572 572h2v1h-2zM446 573h1v1h-1zM574 573h1v1h-1zM578 573h3v1h-3zM278 574h1v1h-1zM584 574h3v1h-3zM130 575h1v1h-1zM279 575h1v1h-1zM442 575h1v1h-1zM590 575h1v1h-1zM129 576h1v1h-1zM280 576h1v1h-1zM441 576h1v1h-1zM591 576h2v1h-2zM128 577h1v1h-1zM440 577h1v1h-1zM596 577h3v1h-3zM776 577h3v1h-3zM602 578h3v1h-3zM770 578h3v1h-3zM782 578h3v1h-3zM284 579h1v1h-1zM608 579h1v1h-1zM765 579h2v1h-2zM788 579h3v1h-3zM124 580h1v1h-1zM285 580h2v1h-2zM435 580h2v1h-2zM609 580h2v1h-2zM614 580h1v1h-1zM760 580h1v1h-1zM764 580h1v1h-1zM794 580h2v1h-2zM123 581h1v1h-1zM434 581h1v1h-1zM615 581h2v1h-2zM620 581h2v1h-2zM758 581h2v1h-2zM796 581h1v1h-1zM122 582h1v1h-1zM622 582h1v1h-1zM626 582h3v1h-3zM752 582h3v1h-3zM800 582h3v1h-3zM290 583h1v1h-1zM632 583h3v1h-3zM806 583h1v1h-1zM291 584h1v1h-1zM430 584h1v1h-1zM638 584h3v1h-3zM746 584h3v1h-3zM807 584h2v1h-2zM292 585h1v1h-1zM428 585h2v1h-2zM644 585h3v1h-3zM118 586h1v1h-1zM650 586h3v1h-3zM741 586h2v1h-2zM812 586h2v1h-2zM116 587h2v1h-2zM656 587h3v1h-3zM740 587h1v1h-1zM814 587h1v1h-1zM296 588h1v1h-1zM424 588h1v1h-1zM662 588h3v1h-3zM734 588h3v1h-3zM297 589h1v1h-1zM423 589h1v1h-1zM668 589h3v1h-3zM674 589h3v1h-3zM729 589h2v1h-2zM818 589h2v1h-2zM298 590h1v1h-1zM422 590h1v1h-1zM680 590h3v1h-3zM686 590h2v1h-2zM728 590h1v1h-1zM820 590h1v1h-1zM112 591h1v1h-1zM688 591h1v1h-1zM722 591h3v1h-3zM824 591h1v1h-1zM111 592h1v1h-1zM692 592h3v1h-3zM717 592h2v1h-2zM825 592h2v1h-2zM110 593h1v1h-1zM418 593h1v1h-1zM698 593h3v1h-3zM704 593h3v1h-3zM710 593h3v1h-3zM716 593h1v1h-1zM302 594h2v1h-2zM417 594h1v1h-1zM830 594h2v1h-2zM304 595h1v1h-1zM416 595h1v1h-1zM832 595h1v1h-1zM836 596h1v1h-1zM105 597h2v1h-2zM837 597h2v1h-2zM104 598h1v1h-1zM412 598h1v1h-1zM308 599h2v1h-2zM411 599h1v1h-1zM842 599h2v1h-2zM310 600h1v1h-1zM410 600h1v1h-1zM844 600h1v1h-1zM926 600h3v1h-3zM932 600h3v1h-3zM938 600h3v1h-3zM944 600h3v1h-3zM848 601h1v1h-1zM920 601h3v1h-3zM950 601h3v1h-3zM99 602h2v1h-2zM406 602h1v1h-1zM849 602h2v1h-2zM854 602h1v1h-1zM914 602h3v1h-3zM956 602h3v1h-3zM98 603h1v1h-1zM314 603h1v1h-1zM405 603h1v1h-1zM855 603h2v1h-2zM860 603h3v1h-3zM908 603h3v1h-3zM962 603h3v1h-3zM315 604h1v1h-1zM404 604h1v1h-1zM866 604h3v1h-3zM872 604h3v1h-3zM902 604h3v1h-3zM968 604h1v1h-1zM316 605h1v1h-1zM878 605h3v1h-3zM896 605h3v1h-3zM969 605h2v1h-2zM94 606h1v1h-1zM884 606h3v1h-3zM890 606h3v1h-3zM974 606h2v1h-2zM92 607h2v1h-2zM399 607h2v1h-2zM976 607h1v1h-1zM320 608h2v1h-2zM398 608h1v1h-1zM980 608h1v1h-1zM322 609h1v1h-1zM981 609h2v1h-2zM87 610h2v1h-2zM393 610h2v1h-2zM986 610h1v1h-1zM86 611h1v1h-1zM392 611h1v1h-1zM987 611h2v1h-2zM326 612h2v1h-2zM82 613h1v1h-1zM328 613h1v1h-1zM387 613h2v1h-2zM992 613h3v1h-3zM80 614h2v1h-2zM386 614h1v1h-1zM998 614h3v1h-3zM332 615h1v1h-1zM1004 615h3v1h-3zM2 616h3v1h-3zM333 616h2v1h-2zM380 616h3v1h-3zM1010 616h3v1h-3zM8 617h3v1h-3zM75 617h2v1h-2zM14 618h3v1h-3zM20 618h2v1h-2zM74 618h1v1h-1zM338 618h1v1h-1zM376 618h1v1h-1zM1016 618h3v1h-3zM22 619h1v1h-1zM26 619h3v1h-3zM68 619h3v1h-3zM339 619h2v1h-2zM374 619h2v1h-2zM1022 619h1v1h-1zM32 620h3v1h-3zM62 620h3v1h-3zM368 620h3v1h-3zM1023 620h2v1h-2zM38 621h1v1h-1zM50 621h3v1h-3zM56 621h3v1h-3zM344 621h2v1h-2zM364 621h1v1h-1zM1028 621h1v1h-1zM39 622h2v1h-2zM44 622h3v1h-3zM346 622h1v1h-1zM350 622h3v1h-3zM362 622h2v1h-2zM1029 622h2v1h-2zM356 623h3v1h-3zM1034 623h1v1h-1zM1035 624h2v1h-2zM1040 626h1v1h-1zM1041 627h1v1h-1zM1042 628h1v1h-1zM1214 628h3v1h-3zM1220 628h3v1h-3zM1226 628h3v1h-3zM1232 628h3v1h-3zM1208 629h3v1h-3zM1238 629h3v1h-3zM1244 629h3v1h-3zM1046 630h1v1h-1zM1202 630h3v1h-3zM1250 630h3v1h-3zM1047 631h2v1h-2zM1256 631h3v1h-3zM1196 632h3v1h-3zM1262 632h1v1h-1zM1263 633h2v1h-2zM1052 634h1v1h-1zM1190 634h3v1h-3zM1268 634h1v1h-1zM1053 635h1v1h-1zM1269 635h2v1h-2zM1310 635h3v1h-3zM1316 635h3v1h-3zM1322 635h3v1h-3zM1328 635h3v1h-3zM1054 636h1v1h-1zM1185 636h2v1h-2zM1274 636h3v1h-3zM1304 636h3v1h-3zM1184 637h1v1h-1zM1280 637h3v1h-3zM1286 637h3v1h-3zM1292 637h3v1h-3zM1298 637h3v1h-3zM1179 638h2v1h-2zM1058 639h2v1h-2zM1178 639h1v1h-1zM1060 640h1v1h-1zM1174 640h1v1h-1zM1172 641h2v1h-2zM1168 643h1v1h-1zM1064 644h2v1h-2zM1166 644h2v1h-2zM1066 645h1v1h-1zM1162 646h1v1h-1zM1160 647h2v1h-2zM1070 649h2v1h-2zM1156 649h1v1h-1zM1072 650h1v1h-1zM1154 650h2v1h-2zM1150 652h1v1h-1zM1149 653h1v1h-1zM1076 654h1v1h-1zM1148 654h1v1h-1zM1077 655h1v1h-1zM1078 656h1v1h-1zM1144 656h1v1h-1zM1143 657h1v1h-1zM1142 658h1v1h-1zM1082 659h2v1h-2zM1084 660h1v1h-1zM1138 660h1v1h-1zM1136 661h2v1h-2zM1088 662h1v1h-1zM1089 663h2v1h-2zM1132 663h1v1h-1zM1130 664h2v1h-2zM1094 665h1v1h-1zM1095 666h2v1h-2zM1125 666h2v1h-2zM1124 667h1v1h-1zM1100 668h3v1h-3zM1118 668h3v1h-3zM1106 669h3v1h-3zM1112 669h3v1h-3z" fill="#ff0000"/>
</g>
<text transform="translate(6,538) scale(0.96,1)" fill="#000" font-size="9.8" text-anchor="start">MACD(12,26,9) -1.363 -0.472</text>
<g clip-path="url(#cr)">
<line x1="3" y1="731.5" x2="1682" y2="731.5" stroke="#c0c0c0" stroke-width="1" stroke-dasharray="3 3"/>
<line x1="3" y1="781.5" x2="1682" y2="781.5" stroke="#c0c0c0" stroke-width="1" stroke-dasharray="3 3"/>
<path d="M122 717h1v1h-1zM121 718h1v1h-1zM123 718h1v1h-1zM120 719h1v1h-1zM124 719h1v1h-1zM118 720h2v1h-2zM125 720h1v1h-1zM117 721h1v1h-1zM126 721h2v1h-2zM137 721h2v1h-2zM97 722h3v1h-3zM116 722h1v1h-1zM128 722h1v1h-1zM134 722h3v1h-3zM139 722h1v1h-1zM166 722h5v1h-5zM94 723h3v1h-3zM100 723h2v1h-2zM115 723h1v1h-1zM129 723h1v1h-1zM132 723h2v1h-2zM140 723h2v1h-2zM161 723h5v1h-5zM171 723h1v1h-1zM78 724h8v1h-8zM92 724h2v1h-2zM102 724h3v1h-3zM110 724h5v1h-5zM130 724h2v1h-2zM142 724h1v1h-1zM158 724h3v1h-3zM172 724h1v1h-1zM74 725h4v1h-4zM86 725h6v1h-6zM105 725h5v1h-5zM143 725h1v1h-1zM156 725h2v1h-2zM173 725h1v1h-1zM73 726h1v1h-1zM144 726h2v1h-2zM150 726h6v1h-6zM174 726h2v1h-2zM424 726h6v1h-6zM438 726h13v1h-13zM73 727h1v1h-1zM146 727h4v1h-4zM176 727h1v1h-1zM410 727h4v1h-4zM420 727h4v1h-4zM430 727h8v1h-8zM451 727h1v1h-1zM729 727h2v1h-2zM72 728h1v1h-1zM177 728h1v1h-1zM409 728h1v1h-1zM414 728h6v1h-6zM452 728h1v1h-1zM726 728h3v1h-3zM731 728h1v1h-1zM72 729h1v1h-1zM178 729h2v1h-2zM409 729h1v1h-1zM453 729h1v1h-1zM724 729h2v1h-2zM732 729h2v1h-2zM71 730h1v1h-1zM180 730h4v1h-4zM209 730h2v1h-2zM390 730h5v1h-5zM408 730h1v1h-1zM454 730h1v1h-1zM721 730h3v1h-3zM734 730h1v1h-1zM71 731h1v1h-1zM184 731h4v1h-4zM206 731h3v1h-3zM211 731h1v1h-1zM385 731h5v1h-5zM395 731h1v1h-1zM407 731h1v1h-1zM454 731h1v1h-1zM470 731h6v1h-6zM719 731h2v1h-2zM735 731h1v1h-1zM70 732h1v1h-1zM188 732h2v1h-2zM204 732h2v1h-2zM212 732h1v1h-1zM382 732h3v1h-3zM396 732h1v1h-1zM407 732h1v1h-1zM455 732h1v1h-1zM465 732h5v1h-5zM476 732h4v1h-4zM506 732h1v1h-1zM706 732h2v1h-2zM717 732h2v1h-2zM736 732h2v1h-2zM70 733h1v1h-1zM190 733h3v1h-3zM198 733h6v1h-6zM212 733h1v1h-1zM380 733h2v1h-2zM397 733h1v1h-1zM406 733h1v1h-1zM456 733h1v1h-1zM462 733h3v1h-3zM480 733h4v1h-4zM506 733h2v1h-2zM704 733h2v1h-2zM708 733h4v1h-4zM715 733h2v1h-2zM738 733h2v1h-2zM69 734h1v1h-1zM193 734h5v1h-5zM213 734h1v1h-1zM377 734h3v1h-3zM398 734h1v1h-1zM405 734h1v1h-1zM457 734h1v1h-1zM460 734h2v1h-2zM484 734h4v1h-4zM505 734h1v1h-1zM507 734h1v1h-1zM702 734h2v1h-2zM712 734h3v1h-3zM740 734h2v1h-2zM918 734h5v1h-5zM69 735h1v1h-1zM214 735h1v1h-1zM375 735h2v1h-2zM398 735h1v1h-1zM405 735h1v1h-1zM458 735h2v1h-2zM488 735h3v1h-3zM505 735h1v1h-1zM508 735h1v1h-1zM701 735h1v1h-1zM742 735h3v1h-3zM913 735h5v1h-5zM923 735h1v1h-1zM68 736h1v1h-1zM215 736h1v1h-1zM225 736h3v1h-3zM373 736h2v1h-2zM399 736h1v1h-1zM404 736h1v1h-1zM490 736h1v1h-1zM504 736h1v1h-1zM508 736h1v1h-1zM699 736h2v1h-2zM745 736h2v1h-2zM911 736h2v1h-2zM924 736h1v1h-1zM68 737h1v1h-1zM216 737h1v1h-1zM223 737h2v1h-2zM228 737h2v1h-2zM371 737h2v1h-2zM400 737h1v1h-1zM403 737h1v1h-1zM491 737h1v1h-1zM504 737h1v1h-1zM509 737h1v1h-1zM698 737h1v1h-1zM747 737h1v1h-1zM865 737h2v1h-2zM909 737h2v1h-2zM925 737h1v1h-1zM67 738h1v1h-1zM216 738h1v1h-1zM221 738h2v1h-2zM230 738h3v1h-3zM368 738h3v1h-3zM401 738h1v1h-1zM403 738h1v1h-1zM491 738h1v1h-1zM504 738h1v1h-1zM510 738h1v1h-1zM697 738h1v1h-1zM748 738h1v1h-1zM863 738h2v1h-2zM867 738h1v1h-1zM907 738h2v1h-2zM926 738h1v1h-1zM67 739h1v1h-1zM217 739h1v1h-1zM219 739h2v1h-2zM233 739h2v1h-2zM364 739h4v1h-4zM402 739h1v1h-1zM492 739h1v1h-1zM503 739h1v1h-1zM510 739h1v1h-1zM696 739h1v1h-1zM749 739h1v1h-1zM861 739h2v1h-2zM868 739h2v1h-2zM905 739h2v1h-2zM926 739h1v1h-1zM64 740h3v1h-3zM218 740h1v1h-1zM235 740h1v1h-1zM361 740h3v1h-3zM492 740h1v1h-1zM503 740h1v1h-1zM511 740h1v1h-1zM696 740h1v1h-1zM750 740h1v1h-1zM859 740h2v1h-2zM870 740h1v1h-1zM902 740h3v1h-3zM927 740h1v1h-1zM60 741h4v1h-4zM235 741h1v1h-1zM359 741h2v1h-2zM493 741h1v1h-1zM502 741h1v1h-1zM512 741h1v1h-1zM617 741h11v1h-11zM649 741h3v1h-3zM695 741h1v1h-1zM750 741h1v1h-1zM856 741h3v1h-3zM871 741h1v1h-1zM900 741h2v1h-2zM928 741h1v1h-1zM54 742h6v1h-6zM236 742h1v1h-1zM357 742h2v1h-2zM493 742h1v1h-1zM502 742h1v1h-1zM512 742h1v1h-1zM554 742h4v1h-4zM614 742h3v1h-3zM628 742h4v1h-4zM647 742h2v1h-2zM652 742h4v1h-4zM694 742h1v1h-1zM751 742h1v1h-1zM777 742h2v1h-2zM852 742h4v1h-4zM872 742h2v1h-2zM886 742h14v1h-14zM929 742h1v1h-1zM50 743h4v1h-4zM237 743h1v1h-1zM355 743h2v1h-2zM494 743h1v1h-1zM502 743h1v1h-1zM513 743h1v1h-1zM530 743h2v1h-2zM552 743h2v1h-2zM558 743h5v1h-5zM612 743h2v1h-2zM632 743h4v1h-4zM645 743h2v1h-2zM656 743h3v1h-3zM693 743h1v1h-1zM752 743h1v1h-1zM774 743h3v1h-3zM779 743h1v1h-1zM850 743h2v1h-2zM874 743h12v1h-12zM930 743h1v1h-1zM993 743h3v1h-3zM48 744h2v1h-2zM237 744h1v1h-1zM350 744h5v1h-5zM494 744h1v1h-1zM501 744h1v1h-1zM513 744h1v1h-1zM528 744h2v1h-2zM532 744h4v1h-4zM550 744h2v1h-2zM563 744h2v1h-2zM592 744h3v1h-3zM609 744h3v1h-3zM636 744h4v1h-4zM643 744h2v1h-2zM659 744h1v1h-1zM692 744h1v1h-1zM753 744h1v1h-1zM772 744h2v1h-2zM780 744h1v1h-1zM849 744h1v1h-1zM931 744h1v1h-1zM991 744h2v1h-2zM996 744h4v1h-4zM47 745h1v1h-1zM238 745h1v1h-1zM254 745h5v1h-5zM346 745h4v1h-4zM495 745h1v1h-1zM501 745h1v1h-1zM514 745h1v1h-1zM527 745h1v1h-1zM536 745h4v1h-4zM549 745h1v1h-1zM565 745h1v1h-1zM588 745h4v1h-4zM595 745h2v1h-2zM607 745h2v1h-2zM640 745h3v1h-3zM660 745h1v1h-1zM681 745h3v1h-3zM692 745h1v1h-1zM754 745h4v1h-4zM766 745h6v1h-6zM781 745h1v1h-1zM848 745h1v1h-1zM931 745h1v1h-1zM989 745h2v1h-2zM1000 745h3v1h-3zM46 746h1v1h-1zM239 746h1v1h-1zM250 746h4v1h-4zM259 746h1v1h-1zM345 746h1v1h-1zM495 746h1v1h-1zM500 746h1v1h-1zM515 746h2v1h-2zM526 746h1v1h-1zM540 746h4v1h-4zM547 746h2v1h-2zM566 746h2v1h-2zM582 746h6v1h-6zM597 746h2v1h-2zM605 746h2v1h-2zM661 746h1v1h-1zM679 746h2v1h-2zM684 746h4v1h-4zM691 746h1v1h-1zM758 746h8v1h-8zM782 746h2v1h-2zM802 746h9v1h-9zM846 746h2v1h-2zM932 746h1v1h-1zM987 746h2v1h-2zM1003 746h2v1h-2zM1138 746h4v1h-4zM1302 746h5v1h-5zM44 747h2v1h-2zM239 747h1v1h-1zM248 747h2v1h-2zM259 747h1v1h-1zM345 747h1v1h-1zM496 747h1v1h-1zM500 747h1v1h-1zM517 747h2v1h-2zM524 747h2v1h-2zM544 747h3v1h-3zM568 747h2v1h-2zM574 747h8v1h-8zM599 747h2v1h-2zM603 747h2v1h-2zM662 747h1v1h-1zM677 747h2v1h-2zM688 747h3v1h-3zM784 747h1v1h-1zM800 747h2v1h-2zM811 747h1v1h-1zM845 747h1v1h-1zM932 747h1v1h-1zM986 747h1v1h-1zM1005 747h1v1h-1zM1136 747h2v1h-2zM1142 747h6v1h-6zM1170 747h1v1h-1zM1282 747h20v1h-20zM1307 747h1v1h-1zM32 748h6v1h-6zM43 748h1v1h-1zM240 748h1v1h-1zM246 748h2v1h-2zM260 748h1v1h-1zM344 748h1v1h-1zM496 748h1v1h-1zM500 748h1v1h-1zM519 748h2v1h-2zM523 748h1v1h-1zM570 748h4v1h-4zM601 748h2v1h-2zM663 748h1v1h-1zM675 748h2v1h-2zM785 748h1v1h-1zM798 748h2v1h-2zM812 748h2v1h-2zM844 748h1v1h-1zM933 748h1v1h-1zM985 748h1v1h-1zM1006 748h2v1h-2zM1134 748h2v1h-2zM1148 748h2v1h-2zM1169 748h1v1h-1zM1171 748h1v1h-1zM1280 748h2v1h-2zM1307 748h1v1h-1zM28 749h4v1h-4zM38 749h5v1h-5zM241 749h1v1h-1zM245 749h1v1h-1zM261 749h1v1h-1zM343 749h1v1h-1zM497 749h1v1h-1zM499 749h1v1h-1zM521 749h2v1h-2zM664 749h1v1h-1zM672 749h3v1h-3zM786 749h2v1h-2zM797 749h1v1h-1zM814 749h1v1h-1zM843 749h1v1h-1zM933 749h1v1h-1zM984 749h1v1h-1zM1008 749h2v1h-2zM1133 749h1v1h-1zM1150 749h3v1h-3zM1168 749h1v1h-1zM1172 749h1v1h-1zM1278 749h2v1h-2zM1308 749h1v1h-1zM26 750h2v1h-2zM241 750h1v1h-1zM243 750h2v1h-2zM262 750h1v1h-1zM321 750h3v1h-3zM343 750h1v1h-1zM497 750h1v1h-1zM499 750h1v1h-1zM665 750h1v1h-1zM668 750h4v1h-4zM788 750h4v1h-4zM795 750h2v1h-2zM815 750h1v1h-1zM842 750h1v1h-1zM934 750h1v1h-1zM982 750h2v1h-2zM1010 750h1v1h-1zM1131 750h2v1h-2zM1153 750h2v1h-2zM1167 750h1v1h-1zM1172 750h1v1h-1zM1277 750h1v1h-1zM1309 750h1v1h-1zM25 751h1v1h-1zM242 751h1v1h-1zM262 751h1v1h-1zM318 751h3v1h-3zM324 751h2v1h-2zM342 751h1v1h-1zM498 751h1v1h-1zM666 751h2v1h-2zM792 751h3v1h-3zM816 751h2v1h-2zM840 751h2v1h-2zM935 751h1v1h-1zM981 751h1v1h-1zM1010 751h1v1h-1zM1130 751h1v1h-1zM1155 751h2v1h-2zM1166 751h1v1h-1zM1173 751h1v1h-1zM1275 751h2v1h-2zM1309 751h1v1h-1zM2 752h1v1h-1zM24 752h1v1h-1zM263 752h1v1h-1zM316 752h2v1h-2zM326 752h3v1h-3zM341 752h1v1h-1zM498 752h1v1h-1zM818 752h1v1h-1zM839 752h1v1h-1zM935 752h1v1h-1zM980 752h1v1h-1zM1011 752h1v1h-1zM1129 752h1v1h-1zM1157 752h1v1h-1zM1165 752h1v1h-1zM1174 752h1v1h-1zM1274 752h1v1h-1zM1310 752h1v1h-1zM3 753h1v1h-1zM23 753h1v1h-1zM264 753h1v1h-1zM314 753h2v1h-2zM329 753h2v1h-2zM341 753h1v1h-1zM819 753h2v1h-2zM838 753h1v1h-1zM936 753h1v1h-1zM979 753h1v1h-1zM1011 753h1v1h-1zM1082 753h2v1h-2zM1128 753h1v1h-1zM1158 753h2v1h-2zM1164 753h1v1h-1zM1175 753h1v1h-1zM1200 753h4v1h-4zM1274 753h1v1h-1zM1311 753h1v1h-1zM4 754h2v1h-2zM22 754h1v1h-1zM265 754h1v1h-1zM313 754h1v1h-1zM331 754h2v1h-2zM340 754h1v1h-1zM821 754h1v1h-1zM836 754h2v1h-2zM936 754h1v1h-1zM978 754h1v1h-1zM1012 754h1v1h-1zM1082 754h1v1h-1zM1084 754h4v1h-4zM1127 754h1v1h-1zM1160 754h2v1h-2zM1163 754h1v1h-1zM1176 754h1v1h-1zM1196 754h4v1h-4zM1204 754h2v1h-2zM1273 754h1v1h-1zM1311 754h1v1h-1zM6 755h1v1h-1zM21 755h1v1h-1zM265 755h1v1h-1zM313 755h1v1h-1zM333 755h2v1h-2zM339 755h1v1h-1zM822 755h2v1h-2zM835 755h1v1h-1zM937 755h1v1h-1zM976 755h2v1h-2zM1012 755h1v1h-1zM1081 755h1v1h-1zM1088 755h4v1h-4zM1126 755h1v1h-1zM1162 755h1v1h-1zM1176 755h1v1h-1zM1184 755h12v1h-12zM1206 755h3v1h-3zM1273 755h1v1h-1zM1312 755h1v1h-1zM7 756h1v1h-1zM20 756h1v1h-1zM266 756h1v1h-1zM312 756h1v1h-1zM335 756h2v1h-2zM339 756h1v1h-1zM824 756h2v1h-2zM830 756h5v1h-5zM937 756h1v1h-1zM974 756h2v1h-2zM1013 756h1v1h-1zM1081 756h1v1h-1zM1092 756h4v1h-4zM1125 756h1v1h-1zM1177 756h1v1h-1zM1180 756h4v1h-4zM1209 756h5v1h-5zM1273 756h1v1h-1zM1313 756h1v1h-1zM8 757h2v1h-2zM19 757h1v1h-1zM267 757h2v1h-2zM311 757h1v1h-1zM337 757h2v1h-2zM826 757h4v1h-4zM938 757h12v1h-12zM973 757h1v1h-1zM1013 757h1v1h-1zM1081 757h1v1h-1zM1096 757h4v1h-4zM1124 757h1v1h-1zM1178 757h2v1h-2zM1214 757h14v1h-14zM1272 757h1v1h-1zM1313 757h1v1h-1zM10 758h9v1h-9zM269 758h1v1h-1zM311 758h1v1h-1zM950 758h8v1h-8zM971 758h2v1h-2zM1014 758h1v1h-1zM1081 758h1v1h-1zM1100 758h4v1h-4zM1123 758h1v1h-1zM1228 758h4v1h-4zM1272 758h1v1h-1zM1314 758h1v1h-1zM270 759h2v1h-2zM310 759h1v1h-1zM958 759h13v1h-13zM1014 759h1v1h-1zM1080 759h1v1h-1zM1104 759h4v1h-4zM1121 759h2v1h-2zM1232 759h4v1h-4zM1272 759h1v1h-1zM1315 759h1v1h-1zM272 760h2v1h-2zM309 760h1v1h-1zM1015 760h1v1h-1zM1080 760h1v1h-1zM1108 760h2v1h-2zM1118 760h3v1h-3zM1236 760h4v1h-4zM1271 760h1v1h-1zM1316 760h1v1h-1zM274 761h2v1h-2zM309 761h1v1h-1zM1015 761h1v1h-1zM1080 761h1v1h-1zM1110 761h3v1h-3zM1116 761h2v1h-2zM1240 761h4v1h-4zM1271 761h1v1h-1zM1316 761h1v1h-1zM276 762h4v1h-4zM308 762h1v1h-1zM1016 762h1v1h-1zM1080 762h1v1h-1zM1113 762h3v1h-3zM1244 762h4v1h-4zM1271 762h1v1h-1zM1317 762h1v1h-1zM280 763h12v1h-12zM307 763h1v1h-1zM1016 763h1v1h-1zM1079 763h1v1h-1zM1248 763h3v1h-3zM1270 763h1v1h-1zM1318 763h1v1h-1zM292 764h2v1h-2zM307 764h1v1h-1zM1017 764h1v1h-1zM1079 764h1v1h-1zM1251 764h1v1h-1zM1270 764h1v1h-1zM1319 764h1v1h-1zM294 765h3v1h-3zM302 765h5v1h-5zM1017 765h1v1h-1zM1079 765h1v1h-1zM1251 765h1v1h-1zM1269 765h1v1h-1zM1320 765h1v1h-1zM297 766h5v1h-5zM1018 766h1v1h-1zM1078 766h1v1h-1zM1252 766h1v1h-1zM1269 766h1v1h-1zM1320 766h1v1h-1zM1018 767h4v1h-4zM1078 767h1v1h-1zM1253 767h1v1h-1zM1269 767h1v1h-1zM1321 767h1v1h-1zM1022 768h5v1h-5zM1078 768h1v1h-1zM1254 768h1v1h-1zM1268 768h1v1h-1zM1322 768h2v1h-2zM1026 769h1v1h-1zM1078 769h1v1h-1zM1254 769h1v1h-1zM1268 769h1v1h-1zM1324 769h4v1h-4zM1027 770h1v1h-1zM1077 770h1v1h-1zM1255 770h1v1h-1zM1268 770h1v1h-1zM1328 770h3v1h-3zM1027 771h1v1h-1zM1077 771h1v1h-1zM1256 771h1v1h-1zM1267 771h1v1h-1zM1028 772h1v1h-1zM1077 772h1v1h-1zM1257 772h1v1h-1zM1267 772h1v1h-1zM1028 773h1v1h-1zM1076 773h1v1h-1zM1257 773h1v1h-1zM1267 773h1v1h-1zM1029 774h1v1h-1zM1076 774h1v1h-1zM1258 774h4v1h-4zM1266 774h1v1h-1zM1029 775h1v1h-1zM1076 775h1v1h-1zM1262 775h5v1h-5zM1030 776h1v1h-1zM1076 776h1v1h-1zM1030 777h1v1h-1zM1075 777h1v1h-1zM1030 778h1v1h-1zM1075 778h1v1h-1zM1031 779h1v1h-1zM1075 779h1v1h-1zM1031 780h1v1h-1zM1075 780h1v1h-1zM1032 781h1v1h-1zM1074 781h1v1h-1zM1032 782h1v1h-1zM1064 782h11v1h-11zM1033 783h1v1h-1zM1041 783h13v1h-13zM1060 783h4v1h-4zM1033 784h1v1h-1zM1038 784h3v1h-3zM1054 784h6v1h-6zM1034 785h1v1h-1zM1036 785h2v1h-2zM1034 786h2v1h-2z" fill="#1e90ff"/>
</g>
<text transform="translate(6,706) scale(0.96,1)" fill="#000" font-size="9.8" text-anchor="start">RSI(14) 38.3309</text>
<rect x="1" y="2" width="1682" height="1" fill="#000"/>
<rect x="1" y="523" width="1682" height="1" fill="#000"/>
<rect x="1" y="2" width="1" height="522" fill="#000"/>
<rect x="1682" y="2" width="1" height="522" fill="#000"/>
<rect x="1" y="525" width="1682" height="1" fill="#000"/>
<rect x="1" y="691" width="1682" height="1" fill="#000"/>
<rect x="1" y="525" width="1" height="167" fill="#000"/>
<rect x="1682" y="525" width="1" height="167" fill="#000"/>
<rect x="1" y="693" width="1682" height="1" fill="#000"/>
<rect x="1" y="818" width="1682" height="1" fill="#000"/>
<rect x="1" y="693" width="1" height="126" fill="#000"/>
<rect x="1682" y="693" width="1" height="126" fill="#000"/>
<rect x="1683" y="25" width="2" height="1" fill="#000"/>
<text transform="translate(1688,29) scale(0.95,1)" fill="#000" font-size="9.8" text-anchor="start">1917.20</text>
<rect x="1683" y="58" width="2" height="1" fill="#000"/>
<text transform="translate(1688,62) scale(0.95,1)" fill="#000" font-size="9.8" text-anchor="start">1907.30</text>
<rect x="1683" y="91" width="2" height="1" fill="#000"/>
<text transform="translate(1688,95) scale(0.95,1)" fill="#000" font-size="9.8" text-anchor="start">1897.40</text>
<rect x="1683" y="124" width="2" height="1" fill="#000"/>
<text transform="translate(1688,128) scale(0.95,1)" fill="#000" font-size="9.8" text-anchor="start">1887.20</text>
<rect x="1683" y="157" width="2" height="1" fill="#000"/>
<text transform="translate(1688,161) scale(0.95,1)" fill="#000" font-size="9.8" text-anchor="start">1877.30</text>
<rect x="1683" y="190" width="2" height="1" fill="#000"/>
<text transform="translate(1688,194) scale(0.95,1)" fill="#000" font-size="9.8" text-anchor="start">1867.40</text>
<rect x="1683" y="223" width="2" height="1" fill="#000"/>
<text transform="translate(1688,227) scale(0.95,1)" fill="#000" font-size="9.8" text-anchor="start">1857.20</text>
<rect x="1683" y="256" width="2" height="1" fill="#000"/>
<text transform="translate(1688,260) scale(0.95,1)" fill="#000" font-size="9.8" text-anchor="start">1847.30</text>
<rect x="1683" y="289" width="2" height="1" fill="#000"/>
<text transform="translate(1688,293) scale(0.95,1)" fill="#000" font-size="9.8" text-anchor="start">1837.40</text>
<rect x="1683" y="322" width="2" height="1" fill="#000"/>
<text transform="translate(1688,326) scale(0.95,1)" fill="#000" font-size="9.8" text-anchor="start">1827.20</text>
<rect x="1683" y="355" width="2" height="1" fill="#000"/>
<text transform="translate(1688,359) scale(0.95,1)" fill="#000" font-size="9.8" text-anchor="start">1817.30</text>
<rect x="1683" y="388" width="2" height="1" fill="#000"/>
<text transform="translate(1688,392) scale(0.95,1)" fill="#000" font-size="9.8" text-anchor="start">1807.40</text>
<rect x="1683" y="421" width="2" height="1" fill="#000"/>
<text transform="translate(1688,425) scale(0.95,1)" fill="#000" font-size="9.8" text-anchor="start">1797.20</text>
<rect x="1683" y="454" width="2" height="1" fill="#000"/>
<text transform="translate(1688,458) scale(0.95,1)" fill="#000" font-size="9.8" text-anchor="start">1787.30</text>
<rect x="1683" y="487" width="2" height="1" fill="#000"/>
<text transform="translate(1688,491) scale(0.95,1)" fill="#000" font-size="9.8" text-anchor="start">1777.40</text>
<rect x="1683" y="520" width="2" height="1" fill="#000"/>
<text transform="translate(1688,524) scale(0.95,1)" fill="#000" font-size="9.8" text-anchor="start">1767.50</text>
<rect x="1684" y="43" width="38" height="11" fill="#ff0000"/>
<text transform="translate(1688,52) scale(0.95,1)" fill="#fff" font-size="9.8" text-anchor="start">1910.00</text>
<rect x="1684" y="126" width="38" height="11" fill="#32cd32"/>
<text transform="translate(1688,135) scale(0.95,1)" fill="#fff" font-size="9.8" text-anchor="start">1885.00</text>
<rect x="1684" y="153" width="38" height="11" fill="#000000"/>
<text transform="translate(1688,162) scale(0.95,1)" fill="#fff" font-size="9.8" text-anchor="start">1877.01</text>
<rect x="1684" y="192" width="38" height="11" fill="#4169e1"/>
<text transform="translate(1688,201) scale(0.95,1)" fill="#fff" font-size="9.8" text-anchor="start">1865.00</text>
<rect x="1684" y="258" width="38" height="11" fill="#4169e1"/>
<text transform="translate(1688,267) scale(0.95,1)" fill="#fff" font-size="9.8" text-anchor="start">1845.00</text>
<rect x="1683" y="527" width="2" height="1" fill="#000"/>
<text transform="translate(1686,536) scale(0.95,1)" fill="#000" font-size="9.8" text-anchor="start">15.876</text>
<rect x="1683" y="632" width="2" height="1" fill="#000"/>
<text transform="translate(1686,636) scale(0.95,1)" fill="#000" font-size="9.8" text-anchor="start">0.00</text>
<rect x="1683" y="690" width="2" height="1" fill="#000"/>
<text transform="translate(1686,688) scale(0.95,1)" fill="#000" font-size="9.8" text-anchor="start">-8.843</text>
<rect x="1683" y="695" width="2" height="1" fill="#000"/>
<text transform="translate(1686,704) scale(0.95,1)" fill="#000" font-size="9.8" text-anchor="start">100</text>
<text transform="translate(1685,735) scale(0.95,1)" fill="#000" font-size="9.8" text-anchor="start">70</text>
<text transform="translate(1685,785) scale(0.95,1)" fill="#000" font-size="9.8" text-anchor="start">30</text>
<rect x="1683" y="817" width="2" height="1" fill="#000"/>
<text transform="translate(1686,815) scale(0.95,1)" fill="#000" font-size="9.8" text-anchor="start">0</text>
<rect x="2" y="819" width="1" height="3" fill="#000"/>
<text transform="translate(1,831) scale(0.98,1)" fill="#000" font-size="9.8" text-anchor="start">5 May 2021</text>
<rect x="66" y="819" width="1" height="3" fill="#000"/>
<text transform="translate(65,831) scale(0.98,1)" fill="#000" font-size="9.8" text-anchor="start">6 May 08:00</text>
<rect x="130" y="819" width="1" height="3" fill="#000"/>
<text transform="translate(129,831) scale(0.98,1)" fill="#000" font-size="9.8" text-anchor="start">7 May 16:00</text>
<rect x="194" y="819" width="1" height="3" fill="#000"/>
<text transform="translate(193,831) scale(0.98,1)" fill="#000" font-size="9.8" text-anchor="start">11 May 00:00</text>
<rect x="258" y="819" width="1" height="3" fill="#000"/>
<text transform="translate(257,831) scale(0.98,1)" fill="#000" font-size="9.8" text-anchor="start">12 May 08:00</text>
<rect x="322" y="819" width="1" height="3" fill="#000"/>
<text transform="translate(321,831) scale(0.98,1)" fill="#000" font-size="9.8" text-anchor="start">13 May 16:00</text>
<rect x="386" y="819" width="1" height="3" fill="#000"/>
<text transform="translate(385,831) scale(0.98,1)" fill="#000" font-size="9.8" text-anchor="start">17 May 00:00</text>
<rect x="450" y="819" width="1" height="3" fill="#000"/>
<text transform="translate(449,831) scale(0.98,1)" fill="#000" font-size="9.8" text-anchor="start">18 May 08:00</text>
<rect x="514" y="819" width="1" height="3" fill="#000"/>
<text transform="translate(513,831) scale(0.98,1)" fill="#000" font-size="9.8" text-anchor="start">19 May 16:00</text>
<rect x="578" y="819" width="1" height="3" fill="#000"/>
<text transform="translate(577,831) scale(0.98,1)" fill="#000" font-size="9.8" text-anchor="start">21 May 00:00</text>
<rect x="642" y="819" width="1" height="3" fill="#000"/>
<text transform="translate(641,831) scale(0.98,1)" fill="#000" font-size="9.8" text-anchor="start">24 May 08:00</text>
<rect x="706" y="819" width="1" height="3" fill="#000"/>
<text transform="translate(705,831) scale(0.98,1)" fill="#000" font-size="9.8" text-anchor="start">25 May 16:00</text>
<rect x="770" y="819" width="1" height="3" fill="#000"/>
<text transform="translate(769,831) scale(0.98,1)" fill="#000" font-size="9.8" text-anchor="start">27 May 00:00</text>
<rect x="834" y="819" width="1" height="3" fill="#000"/>
<text transform="translate(833,831) scale(0.98,1)" fill="#000" font-size="9.8" text-anchor="start">28 May 08:00</text>
<rect x="898" y="819" width="1" height="3" fill="#000"/>
<text transform="translate(897,831) scale(0.98,1)" fill="#000" font-size="9.8" text-anchor="start">31 May 16:00</text>
<rect x="962" y="819" width="1" height="3" fill="#000"/>
<text transform="translate(961,831) scale(0.935,1)" fill="#000" font-size="9.8" text-anchor="start">2 Jun 00:00</text>
<rect x="1026" y="819" width="1" height="3" fill="#000"/>
<text transform="translate(1025,831) scale(0.935,1)" fill="#000" font-size="9.8" text-anchor="start">3 Jun 08:00</text>
<rect x="1090" y="819" width="1" height="3" fill="#000"/>
<text transform="translate(1089,831) scale(0.935,1)" fill="#000" font-size="9.8" text-anchor="start">4 Jun 16:00</text>
<rect x="1154" y="819" width="1" height="3" fill="#000"/>
<text transform="translate(1153,831) scale(0.935,1)" fill="#000" font-size="9.8" text-anchor="start">8 Jun 00:00</text>
<rect x="1218" y="819" width="1" height="3" fill="#000"/>
<text transform="translate(1217,831) scale(0.935,1)" fill="#000" font-size="9.8" text-anchor="start">9 Jun 08:00</text>
<rect x="1282" y="819" width="1" height="3" fill="#000"/>
<text transform="translate(1281,831) scale(0.935,1)" fill="#000" font-size="9.8" text-anchor="start">10 Jun 16:00</text>
<rect x="0" y="839" width="1722" height="1" fill="#e3e3e3"/>
</svg>
</body></html>
